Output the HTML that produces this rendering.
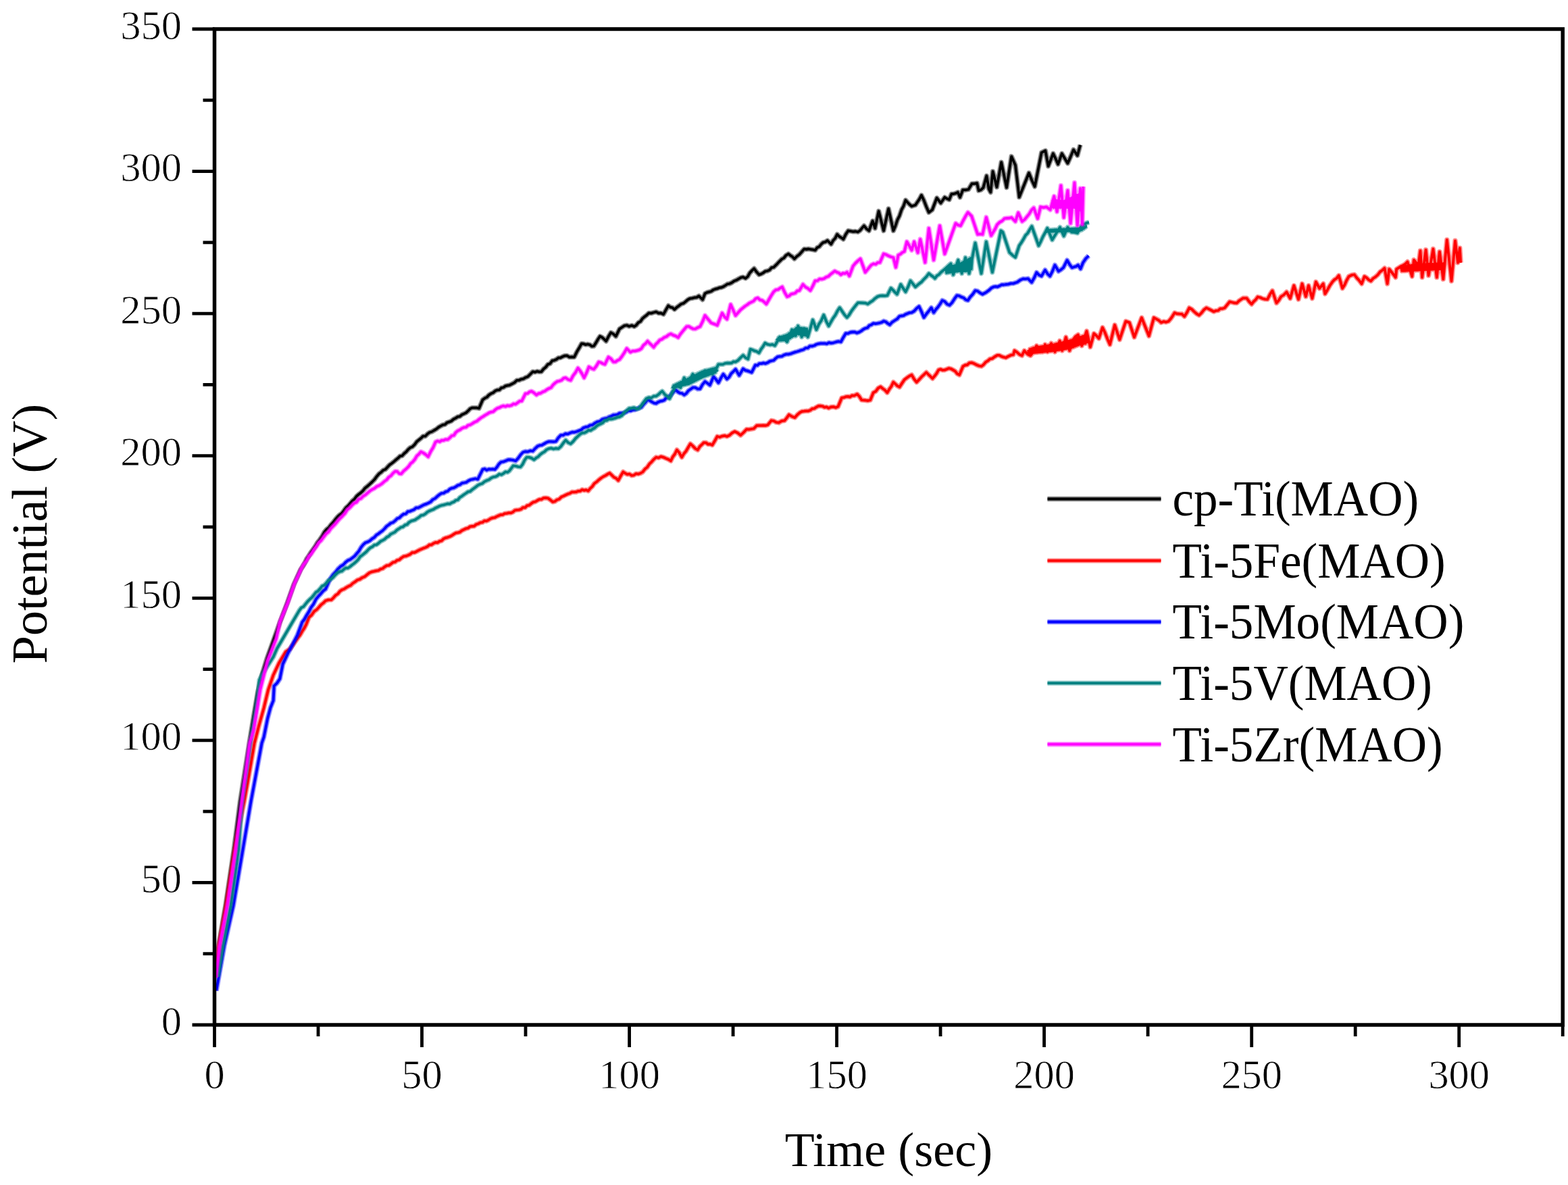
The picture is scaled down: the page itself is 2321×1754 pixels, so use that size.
<!DOCTYPE html><html><head><meta charset="utf-8"><title>Potential vs Time</title>
<style>html,body{margin:0;padding:0;background:#fff;}svg{display:block;}text{font-family:"Liberation Serif","Times New Roman",serif;fill:#000;}</style></head><body>
<svg width="2321" height="1754" viewBox="0 0 2321 1754">
<rect width="2321" height="1754" fill="#fff"/>
<g fill="none" stroke-linejoin="round" stroke-linecap="butt">
<path stroke="#000000" stroke-width="7.4" stroke-opacity="0.45" d="M319.5 1440.0L324.5 1395.0 334.0 1340.0 346.2 1258.0 355.5 1186.0 369.0 1100.0 375.5 1060.0 381.5 1025.0 388.0 998.0 395.0 975.0 404.0 950.0 414.0 922.0 425.0 893.0 435.0 865.0 445.0 843.0 448.0 838.5 451.0 833.5 454.0 827.2 457.0 823.0 460.2 817.6 463.5 813.1 466.8 808.4 470.0 803.0 473.4 798.7 476.9 793.6 480.3 787.4 483.6 783.4 486.8 780.9 490.1 776.5 493.3 773.1 496.4 769.0 499.6 765.2 502.7 762.2 505.9 759.9 509.0 755.9 512.2 751.5 515.3 748.8 518.5 745.1 521.6 741.4 524.8 738.7 527.9 734.5 531.0 731.7 534.1 729.4 537.3 726.4 540.4 722.4 543.5 720.0 547.1 716.8 550.7 713.5 554.3 709.8 557.9 704.9 561.1 701.3 564.2 699.0 567.4 695.9 570.5 694.7 573.7 691.2 576.9 687.9 580.0 685.7 583.2 683.2 586.2 680.5 589.2 678.1 592.2 675.1 595.3 674.6 598.3 671.2 601.3 668.7 604.4 665.1 607.5 662.4 610.6 661.2 613.7 658.1 616.8 653.8 619.9 651.3 623.0 648.8 626.2 645.7 629.5 645.7 632.8 642.3 636.0 640.0 639.2 639.0 642.5 637.0 645.8 635.1 649.0 632.5 652.2 630.6 655.5 628.9 658.7 628.3 661.8 625.5 665.0 624.4 668.1 623.2 671.3 620.5 674.5 618.9 677.6 616.9 680.8 616.3 683.8 613.7 686.8 612.4 689.8 611.0 692.9 608.2 695.9 605.0 698.9 603.6 702.3 603.6 705.6 603.7 709.0 604.4 714.5 591.8 717.6 589.4 720.7 587.9 723.8 584.6 726.9 582.6 730.0 581.3 733.1 578.6 736.2 577.3 739.2 577.1 742.2 574.2 745.2 573.5 748.2 571.4 751.2 570.7 754.2 570.1 757.8 568.3 761.5 566.3 765.1 562.9 768.4 562.8 771.6 561.3 774.9 560.6 778.1 558.7 781.4 557.4 785.0 553.9 788.6 550.2 791.8 550.9 795.0 549.7 798.1 550.3 801.3 550.2 804.5 546.2 807.8 543.5 811.0 539.4 814.3 538.2 817.5 533.9 820.5 533.3 823.5 532.0 826.5 529.7 829.6 529.5 832.6 528.0 835.6 526.7 839.2 526.4 842.9 528.6 846.5 528.3 850.1 528.5 853.7 521.1 857.3 515.1 860.9 508.6 863.9 509.0 866.9 510.1 870.0 509.5 873.0 510.3 876.0 512.5 879.0 512.2 882.0 507.6 885.1 502.3 888.1 497.8 891.1 499.3 894.1 501.9 897.1 505.0 900.7 498.1 904.3 492.3 908.0 494.3 911.6 497.8 917.0 486.9 920.6 484.5 924.2 482.2 927.8 481.5 931.4 483.0 935.1 481.7 938.7 483.3 941.8 481.3 944.9 477.5 948.0 475.8 951.1 471.4 954.2 468.7 957.3 466.4 960.4 463.4 964.0 463.6 967.6 462.5 971.2 461.6 974.8 463.5 978.5 463.5 982.1 465.2 985.7 458.7 989.3 452.5 992.3 454.7 995.4 455.3 998.4 458.0 1001.7 455.0 1005.0 452.6 1008.3 450.0 1011.7 448.9 1015.0 446.3 1018.3 443.5 1021.5 441.8 1024.8 441.3 1028.0 440.5 1031.3 440.2 1034.5 438.1 1040.0 443.5 1043.6 434.5 1046.6 432.9 1049.6 432.1 1052.7 431.2 1055.7 429.1 1058.7 427.9 1061.7 427.2 1064.7 425.9 1067.7 425.5 1070.7 424.4 1073.7 422.5 1076.7 420.5 1079.7 420.0 1083.1 418.5 1086.5 416.1 1089.8 414.8 1093.2 412.8 1096.6 410.9 1100.0 410.2 1103.6 412.0 1106.8 409.4 1109.9 403.9 1113.1 400.4 1116.3 397.5 1119.9 402.6 1123.5 406.6 1126.6 405.6 1129.7 403.9 1132.8 401.6 1135.9 401.0 1139.0 399.7 1142.1 396.2 1145.2 395.7 1150.6 390.3 1153.9 386.8 1157.1 383.6 1160.4 381.8 1163.6 377.8 1166.9 375.8 1169.9 378.1 1172.9 380.0 1175.9 383.1 1179.5 379.5 1183.2 376.8 1186.8 372.7 1190.4 368.6 1193.7 369.0 1196.9 368.5 1200.2 369.1 1203.4 369.7 1206.7 370.4 1209.7 366.4 1212.7 365.1 1215.7 361.4 1218.7 358.8 1221.8 358.1 1224.8 356.0 1230.2 361.4 1233.2 356.0 1236.2 352.8 1239.2 346.9 1242.2 350.0 1245.3 351.8 1248.3 354.1 1251.9 346.9 1255.5 341.5 1259.1 342.1 1262.8 342.8 1266.4 342.5 1270.0 343.3 1273.0 341.2 1276.0 337.6 1279.0 334.2 1282.7 338.8 1286.3 341.5 1291.7 327.0 1295.3 337.9 1300.7 312.5 1308.0 341.5 1315.2 308.9 1322.4 341.5 1325.4 334.5 1328.4 325.5 1331.5 319.3 1334.5 310.5 1337.5 304.9 1340.5 296.3 1343.5 299.6 1346.5 302.7 1349.5 305.3 1355.0 303.5 1358.0 299.0 1361.0 294.7 1364.0 289.0 1367.6 296.6 1371.3 306.3 1374.9 314.4 1380.0 310.5 1386.7 293.0 1392.6 300.5 1398.4 292.1 1401.8 294.1 1405.1 295.5 1408.5 287.1 1411.6 287.0 1414.6 286.2 1417.7 284.6 1421.0 292.1 1425.2 281.2 1429.4 281.2 1433.6 280.4 1438.6 272.0 1442.4 271.8 1446.2 271.2 1448.7 282.1 1452.1 280.9 1455.4 277.9 1460.4 260.3 1463.7 279.6 1466.3 284.6 1469.6 253.6 1475.5 277.0 1482.2 240.2 1490.0 277.6 1497.2 231.6 1503.0 244.6 1508.7 291.9 1523.0 256.0 1527.3 266.7 1531.7 276.1 1541.7 225.9 1547.4 223.0 1551.7 246.0 1558.9 227.3 1562.5 234.8 1566.1 243.1 1571.8 227.3 1576.1 234.4 1580.4 241.7 1584.7 232.1 1589.0 221.6 1594.8 230.2 1599.1 214.4"/>
<path stroke="#000000" stroke-width="3.8" d="M319.5 1440.0L324.5 1395.0 334.0 1340.0 346.2 1258.0 355.5 1186.0 369.0 1100.0 375.5 1060.0 381.5 1025.0 388.0 998.0 395.0 975.0 404.0 950.0 414.0 922.0 425.0 893.0 435.0 865.0 445.0 843.0 448.0 838.5 451.0 833.5 454.0 827.2 457.0 823.0 460.2 817.6 463.5 813.1 466.8 808.4 470.0 803.0 473.4 798.7 476.9 793.6 480.3 787.4 483.6 783.4 486.8 780.9 490.1 776.5 493.3 773.1 496.4 769.0 499.6 765.2 502.7 762.2 505.9 759.9 509.0 755.9 512.2 751.5 515.3 748.8 518.5 745.1 521.6 741.4 524.8 738.7 527.9 734.5 531.0 731.7 534.1 729.4 537.3 726.4 540.4 722.4 543.5 720.0 547.1 716.8 550.7 713.5 554.3 709.8 557.9 704.9 561.1 701.3 564.2 699.0 567.4 695.9 570.5 694.7 573.7 691.2 576.9 687.9 580.0 685.7 583.2 683.2 586.2 680.5 589.2 678.1 592.2 675.1 595.3 674.6 598.3 671.2 601.3 668.7 604.4 665.1 607.5 662.4 610.6 661.2 613.7 658.1 616.8 653.8 619.9 651.3 623.0 648.8 626.2 645.7 629.5 645.7 632.8 642.3 636.0 640.0 639.2 639.0 642.5 637.0 645.8 635.1 649.0 632.5 652.2 630.6 655.5 628.9 658.7 628.3 661.8 625.5 665.0 624.4 668.1 623.2 671.3 620.5 674.5 618.9 677.6 616.9 680.8 616.3 683.8 613.7 686.8 612.4 689.8 611.0 692.9 608.2 695.9 605.0 698.9 603.6 702.3 603.6 705.6 603.7 709.0 604.4 714.5 591.8 717.6 589.4 720.7 587.9 723.8 584.6 726.9 582.6 730.0 581.3 733.1 578.6 736.2 577.3 739.2 577.1 742.2 574.2 745.2 573.5 748.2 571.4 751.2 570.7 754.2 570.1 757.8 568.3 761.5 566.3 765.1 562.9 768.4 562.8 771.6 561.3 774.9 560.6 778.1 558.7 781.4 557.4 785.0 553.9 788.6 550.2 791.8 550.9 795.0 549.7 798.1 550.3 801.3 550.2 804.5 546.2 807.8 543.5 811.0 539.4 814.3 538.2 817.5 533.9 820.5 533.3 823.5 532.0 826.5 529.7 829.6 529.5 832.6 528.0 835.6 526.7 839.2 526.4 842.9 528.6 846.5 528.3 850.1 528.5 853.7 521.1 857.3 515.1 860.9 508.6 863.9 509.0 866.9 510.1 870.0 509.5 873.0 510.3 876.0 512.5 879.0 512.2 882.0 507.6 885.1 502.3 888.1 497.8 891.1 499.3 894.1 501.9 897.1 505.0 900.7 498.1 904.3 492.3 908.0 494.3 911.6 497.8 917.0 486.9 920.6 484.5 924.2 482.2 927.8 481.5 931.4 483.0 935.1 481.7 938.7 483.3 941.8 481.3 944.9 477.5 948.0 475.8 951.1 471.4 954.2 468.7 957.3 466.4 960.4 463.4 964.0 463.6 967.6 462.5 971.2 461.6 974.8 463.5 978.5 463.5 982.1 465.2 985.7 458.7 989.3 452.5 992.3 454.7 995.4 455.3 998.4 458.0 1001.7 455.0 1005.0 452.6 1008.3 450.0 1011.7 448.9 1015.0 446.3 1018.3 443.5 1021.5 441.8 1024.8 441.3 1028.0 440.5 1031.3 440.2 1034.5 438.1 1040.0 443.5 1043.6 434.5 1046.6 432.9 1049.6 432.1 1052.7 431.2 1055.7 429.1 1058.7 427.9 1061.7 427.2 1064.7 425.9 1067.7 425.5 1070.7 424.4 1073.7 422.5 1076.7 420.5 1079.7 420.0 1083.1 418.5 1086.5 416.1 1089.8 414.8 1093.2 412.8 1096.6 410.9 1100.0 410.2 1103.6 412.0 1106.8 409.4 1109.9 403.9 1113.1 400.4 1116.3 397.5 1119.9 402.6 1123.5 406.6 1126.6 405.6 1129.7 403.9 1132.8 401.6 1135.9 401.0 1139.0 399.7 1142.1 396.2 1145.2 395.7 1150.6 390.3 1153.9 386.8 1157.1 383.6 1160.4 381.8 1163.6 377.8 1166.9 375.8 1169.9 378.1 1172.9 380.0 1175.9 383.1 1179.5 379.5 1183.2 376.8 1186.8 372.7 1190.4 368.6 1193.7 369.0 1196.9 368.5 1200.2 369.1 1203.4 369.7 1206.7 370.4 1209.7 366.4 1212.7 365.1 1215.7 361.4 1218.7 358.8 1221.8 358.1 1224.8 356.0 1230.2 361.4 1233.2 356.0 1236.2 352.8 1239.2 346.9 1242.2 350.0 1245.3 351.8 1248.3 354.1 1251.9 346.9 1255.5 341.5 1259.1 342.1 1262.8 342.8 1266.4 342.5 1270.0 343.3 1273.0 341.2 1276.0 337.6 1279.0 334.2 1282.7 338.8 1286.3 341.5 1291.7 327.0 1295.3 337.9 1300.7 312.5 1308.0 341.5 1315.2 308.9 1322.4 341.5 1325.4 334.5 1328.4 325.5 1331.5 319.3 1334.5 310.5 1337.5 304.9 1340.5 296.3 1343.5 299.6 1346.5 302.7 1349.5 305.3 1355.0 303.5 1358.0 299.0 1361.0 294.7 1364.0 289.0 1367.6 296.6 1371.3 306.3 1374.9 314.4 1380.0 310.5 1386.7 293.0 1392.6 300.5 1398.4 292.1 1401.8 294.1 1405.1 295.5 1408.5 287.1 1411.6 287.0 1414.6 286.2 1417.7 284.6 1421.0 292.1 1425.2 281.2 1429.4 281.2 1433.6 280.4 1438.6 272.0 1442.4 271.8 1446.2 271.2 1448.7 282.1 1452.1 280.9 1455.4 277.9 1460.4 260.3 1463.7 279.6 1466.3 284.6 1469.6 253.6 1475.5 277.0 1482.2 240.2 1490.0 277.6 1497.2 231.6 1503.0 244.6 1508.7 291.9 1523.0 256.0 1527.3 266.7 1531.7 276.1 1541.7 225.9 1547.4 223.0 1551.7 246.0 1558.9 227.3 1562.5 234.8 1566.1 243.1 1571.8 227.3 1576.1 234.4 1580.4 241.7 1584.7 232.1 1589.0 221.6 1594.8 230.2 1599.1 214.4"/>
<path stroke="#ff0000" stroke-width="7.4" stroke-opacity="0.45" d="M319.5 1440.0L324.0 1400.0 335.0 1340.0 341.0 1300.0 347.5 1258.0 354.5 1220.0 361.5 1186.0 368.0 1150.0 376.6 1100.0 383.1 1074.6 390.6 1047.7 397.1 1020.8 404.6 999.2 413.2 980.9 422.9 964.8 429.2 960.5 441.1 943.8 444.1 940.0 447.1 934.8 450.1 930.3 453.1 924.6 457.4 913.7 461.2 910.5 465.1 904.9 468.9 902.2 472.1 898.8 475.4 895.0 478.6 892.6 481.8 889.3 486.1 887.9 490.4 887.9 493.6 884.8 496.9 881.1 500.1 879.0 503.3 875.0 506.4 872.9 509.5 871.7 512.6 869.6 515.8 867.8 518.9 866.5 522.0 863.5 525.6 861.1 529.1 858.5 532.7 857.4 536.3 854.9 539.9 853.5 543.5 850.5 547.0 847.8 550.6 846.3 553.8 845.6 557.0 844.8 560.1 844.3 563.3 842.3 566.4 841.5 569.4 839.1 572.5 837.1 575.6 836.8 578.6 834.8 581.7 832.4 584.8 831.8 587.9 829.3 590.9 828.7 594.0 826.0 597.3 823.7 600.5 823.2 603.8 821.9 607.0 820.5 610.3 817.8 613.6 817.8 616.8 816.2 620.1 814.4 623.3 812.9 626.6 811.6 629.6 810.4 632.6 809.1 635.6 806.5 638.6 806.3 641.6 804.4 644.7 802.9 647.7 803.2 650.7 801.2 653.7 800.4 656.7 797.4 659.7 796.1 662.7 795.3 665.7 794.2 668.7 792.7 671.8 790.6 674.8 788.8 677.8 788.3 680.8 787.6 683.8 785.2 686.8 783.8 689.9 782.3 692.9 781.6 695.9 779.4 698.9 779.0 701.9 778.8 704.9 776.2 708.0 775.2 711.0 773.6 714.0 773.2 717.0 770.9 720.0 771.2 723.0 769.8 726.0 767.7 729.1 766.6 732.1 766.2 735.1 764.6 738.1 763.2 741.1 762.0 744.1 761.9 747.1 760.1 750.1 759.8 753.2 759.2 756.2 759.2 759.2 757.9 762.2 755.4 765.2 754.9 768.2 754.6 771.2 753.7 774.2 751.1 777.2 751.3 780.3 748.3 783.3 747.8 786.3 745.4 789.3 743.4 792.4 742.6 795.4 740.8 798.4 739.2 801.5 739.2 804.7 737.2 807.9 737.0 811.0 737.4 814.6 739.9 818.3 742.9 821.5 742.1 824.6 739.7 827.8 738.7 831.0 735.6 834.1 734.3 837.3 732.7 840.4 731.3 843.6 730.2 846.6 728.3 849.6 728.4 852.7 728.2 855.7 727.0 858.7 726.8 861.7 724.8 864.7 725.9 867.7 725.2 870.7 726.6 873.7 722.9 876.7 720.1 879.7 715.7 883.1 713.3 886.5 710.2 889.9 707.5 893.0 705.5 896.2 703.9 899.4 701.8 902.5 700.3 905.7 703.4 908.9 706.5 912.0 707.9 915.2 711.1 918.8 704.5 922.4 698.5 925.6 700.6 928.8 702.2 931.9 701.7 935.1 703.9 938.4 703.3 941.6 701.1 944.9 701.6 948.1 700.5 951.4 698.5 954.7 694.3 958.0 691.6 961.3 686.7 964.6 683.6 967.9 679.8 971.2 676.8 974.8 677.6 978.5 675.8 982.1 676.8 985.7 678.4 989.3 679.9 992.9 682.2 995.9 676.2 999.0 672.0 1002.0 665.9 1005.6 670.3 1009.2 676.8 1012.4 671.4 1015.5 667.8 1018.7 662.3 1021.9 656.9 1025.5 660.1 1029.1 663.9 1032.7 665.9 1035.7 661.2 1038.8 658.2 1041.8 655.1 1045.0 655.3 1048.1 657.6 1051.2 657.4 1054.4 658.7 1058.1 652.6 1061.7 646.0 1065.3 647.0 1068.9 645.6 1072.5 644.9 1076.1 646.0 1079.9 644.2 1083.8 640.7 1087.6 638.7 1091.9 640.8 1096.3 644.2 1100.7 640.1 1105.0 635.5 1108.6 635.7 1112.2 635.0 1115.8 634.4 1120.1 630.0 1123.4 629.8 1126.6 629.8 1129.9 629.6 1133.1 629.8 1136.4 629.0 1141.8 622.5 1145.4 623.1 1149.1 625.2 1152.7 625.7 1157.1 623.1 1161.4 622.5 1164.7 618.4 1167.9 613.8 1172.2 616.5 1176.6 618.1 1180.4 613.7 1184.2 610.5 1187.2 609.0 1190.2 608.7 1193.3 608.3 1196.3 608.4 1199.3 607.3 1202.3 605.0 1205.4 604.6 1208.4 602.7 1211.5 601.0 1214.5 600.8 1217.5 601.3 1220.5 602.9 1223.5 602.4 1226.5 604.0 1230.0 602.5 1233.5 602.1 1237.1 603.3 1240.6 601.8 1246.0 588.8 1249.1 588.4 1252.1 587.2 1255.2 587.0 1258.3 587.5 1261.3 585.4 1264.4 585.6 1268.8 583.4 1272.0 586.7 1275.3 592.1 1278.5 592.3 1281.8 592.7 1285.0 593.0 1288.3 592.1 1292.7 581.2 1296.3 579.3 1299.9 574.5 1303.5 572.5 1306.8 575.2 1310.0 577.5 1313.3 581.2 1316.3 576.1 1319.4 571.9 1322.4 565.7 1325.4 568.4 1328.5 571.3 1331.5 572.9 1335.1 567.4 1338.7 562.1 1342.3 559.3 1345.9 556.7 1349.5 554.9 1353.2 561.2 1356.8 565.7 1360.4 561.9 1364.0 557.9 1367.6 554.6 1371.2 551.2 1374.2 554.3 1377.3 557.2 1380.3 560.3 1383.3 556.8 1386.3 552.8 1389.3 547.6 1392.3 546.6 1395.3 547.9 1398.3 547.7 1401.4 546.4 1404.4 545.2 1407.4 545.8 1410.6 547.5 1413.8 549.4 1416.9 553.2 1420.1 554.9 1425.5 542.2 1428.7 540.5 1431.8 540.0 1435.0 537.1 1438.2 536.8 1441.8 538.1 1445.4 540.0 1449.0 541.5 1452.6 542.2 1455.8 539.9 1458.9 536.2 1462.1 534.2 1465.3 531.4 1468.9 530.6 1472.5 528.0 1476.1 525.9 1479.3 525.9 1482.4 527.6 1485.6 528.7 1488.8 529.5 1492.5 527.5 1496.3 525.7 1500.0 525.0 1501.8 519.0 1505.4 521.4 1509.1 524.7 1512.7 526.3 1516.3 519.0 1519.3 522.5 1522.3 524.9 1525.3 526.3 1528.3 522.6 1531.4 517.0 1534.4 511.8 1537.4 515.4 1540.4 518.1 1543.4 520.8 1547.0 510.0 1550.6 520.8 1556.1 508.2 1561.5 520.8 1565.1 513.5 1568.7 504.6 1572.3 519.0 1577.8 499.1 1583.2 519.0 1588.6 502.7 1592.2 498.0 1595.8 495.5 1601.3 511.8 1608.5 490.1 1613.9 513.6 1619.3 493.7 1622.9 496.8 1626.6 500.9 1632.0 484.7 1635.6 492.4 1639.3 501.7 1642.9 510.0 1650.1 481.0 1657.3 502.7 1666.4 475.6 1671.8 477.4 1679.0 499.1 1689.9 470.2 1700.7 497.3 1708.0 470.2 1711.6 472.1 1715.2 474.1 1718.8 477.4 1722.4 475.9 1726.1 476.8 1729.7 475.6 1732.7 472.1 1735.7 467.8 1738.7 463.0 1742.3 464.4 1745.9 464.7 1749.5 464.8 1753.2 468.4 1756.8 462.8 1760.4 455.7 1764.0 457.7 1767.7 461.4 1771.3 464.5 1774.9 466.6 1778.5 463.1 1782.1 458.5 1785.7 455.7 1789.3 457.4 1793.0 459.3 1796.6 461.2 1799.8 459.9 1803.1 459.6 1806.3 456.9 1809.6 456.8 1812.8 455.7 1816.4 451.2 1820.1 446.7 1823.7 447.5 1827.3 448.4 1830.9 448.5 1833.9 445.4 1837.0 443.3 1840.0 441.3 1845.4 441.3 1849.0 446.4 1852.6 450.3 1855.6 446.5 1858.7 443.6 1861.7 439.5 1865.3 440.3 1868.9 442.0 1872.5 442.8 1876.1 443.1 1879.8 435.8 1883.4 430.4 1889.5 448.5 1892.9 444.5 1896.3 439.0 1900.3 436.5 1904.4 432.2 1909.8 441.7 1915.3 422.7 1922.0 443.1 1927.5 420.0 1932.9 439.0 1937.0 422.7 1942.4 441.7 1947.8 417.3 1953.2 426.8 1958.7 420.0 1961.4 434.9 1965.0 428.9 1968.6 422.5 1972.2 417.3 1975.4 413.9 1978.5 412.0 1981.7 407.8 1987.1 426.8 1990.3 421.8 1993.4 414.8 1996.6 409.2 2000.7 407.2 2004.8 406.5 2008.4 411.4 2012.0 415.3 2015.6 420.0 2019.7 409.2 2022.9 411.2 2026.0 414.2 2029.2 416.0 2032.6 412.0 2036.0 409.8 2039.4 406.8 2042.8 402.4 2046.2 400.0 2049.5 397.0 2053.6 420.0 2056.3 398.3 2059.5 402.3 2062.6 406.2 2065.8 410.5 2067.2 398.3 2070.4 396.3 2073.5 394.3 2076.7 392.9 2080.1 390.8 2083.4 387.5 2090.2 409.2 2092.9 384.8 2096.3 388.9 2099.7 391.5 2102.4 371.2 2105.1 410.5 2110.6 369.8 2114.6 407.8 2121.4 368.5 2126.8 410.5 2130.9 372.6 2136.3 413.2 2141.8 354.9 2148.5 416.0 2154.0 356.3 2158.0 388.8 2160.8 367.1 2162.1 388.8 M1522.0 518.0L1523.3 523.7 1524.6 517.0 1525.9 523.0 1527.2 516.1 1528.5 522.4 1529.8 515.1 1531.1 521.9 1532.4 514.6 1533.7 521.6 1535.0 514.2 1536.3 521.4 1537.6 513.7 1538.9 521.1 1540.2 513.3 1541.5 520.9 1542.8 512.9 1544.1 520.6 1545.4 512.4 1546.7 520.3 1548.0 512.0 1549.3 520.1 1550.6 511.6 1551.9 519.8 1553.2 511.1 1554.5 519.6 1555.8 510.7 1557.1 519.3 1558.4 510.3 1559.7 519.0 1561.0 509.8 1562.3 518.6 1563.6 509.1 1564.9 518.2 1566.2 508.5 1567.5 517.8 1568.8 507.9 1570.1 517.4 1571.4 507.3 1572.7 517.0 1574.0 506.6 1575.3 516.6 1576.6 506.0 1577.9 516.1 1579.2 505.4 1580.5 515.7 1581.8 504.8 1583.1 515.3 1584.4 504.1 1585.7 514.7 1587.0 503.3 1588.3 513.7 1589.6 502.5 1590.9 512.6 1592.2 501.6 1593.5 511.6 1594.8 500.7 1596.1 510.6 1597.4 499.9 1598.7 509.5 1600.0 499.0 1601.3 508.9 1602.6 498.0 1603.9 508.6 1605.2 496.9 1606.5 508.4 1607.8 495.9 1609.1 508.1 M2074.0 395.0L2075.3 400.9 2076.6 394.6 2077.9 400.8 2079.2 394.2 2080.5 400.7 2081.8 393.8 2083.1 400.5 2084.4 393.4 2085.7 400.4 2087.0 393.0 2088.3 400.3 2089.6 392.7 2090.9 400.2 2092.2 392.3 2093.5 400.0 2094.8 392.0 2096.1 399.9 2097.4 391.8 2098.7 399.8 2100.0 391.7 2101.3 399.7 2102.6 391.6 2103.9 399.5 2105.2 391.5 2106.5 399.4 2107.8 391.4 2109.1 399.3 2110.4 391.3 2111.7 399.2 2113.0 391.1 2114.3 399.1 2115.6 391.0 2116.9 399.0 2118.2 390.9 2119.5 398.8 2120.8 390.8 2122.1 398.7 2123.4 390.7 2124.7 398.6 2126.0 390.5 2127.3 398.5 2128.6 390.4 2129.9 398.4 2131.2 390.3 2132.5 398.2 2133.8 390.2 2135.1 398.1 2136.4 390.1 2137.7 398.0"/>
<path stroke="#ff0000" stroke-width="3.8" d="M319.5 1440.0L324.0 1400.0 335.0 1340.0 341.0 1300.0 347.5 1258.0 354.5 1220.0 361.5 1186.0 368.0 1150.0 376.6 1100.0 383.1 1074.6 390.6 1047.7 397.1 1020.8 404.6 999.2 413.2 980.9 422.9 964.8 429.2 960.5 441.1 943.8 444.1 940.0 447.1 934.8 450.1 930.3 453.1 924.6 457.4 913.7 461.2 910.5 465.1 904.9 468.9 902.2 472.1 898.8 475.4 895.0 478.6 892.6 481.8 889.3 486.1 887.9 490.4 887.9 493.6 884.8 496.9 881.1 500.1 879.0 503.3 875.0 506.4 872.9 509.5 871.7 512.6 869.6 515.8 867.8 518.9 866.5 522.0 863.5 525.6 861.1 529.1 858.5 532.7 857.4 536.3 854.9 539.9 853.5 543.5 850.5 547.0 847.8 550.6 846.3 553.8 845.6 557.0 844.8 560.1 844.3 563.3 842.3 566.4 841.5 569.4 839.1 572.5 837.1 575.6 836.8 578.6 834.8 581.7 832.4 584.8 831.8 587.9 829.3 590.9 828.7 594.0 826.0 597.3 823.7 600.5 823.2 603.8 821.9 607.0 820.5 610.3 817.8 613.6 817.8 616.8 816.2 620.1 814.4 623.3 812.9 626.6 811.6 629.6 810.4 632.6 809.1 635.6 806.5 638.6 806.3 641.6 804.4 644.7 802.9 647.7 803.2 650.7 801.2 653.7 800.4 656.7 797.4 659.7 796.1 662.7 795.3 665.7 794.2 668.7 792.7 671.8 790.6 674.8 788.8 677.8 788.3 680.8 787.6 683.8 785.2 686.8 783.8 689.9 782.3 692.9 781.6 695.9 779.4 698.9 779.0 701.9 778.8 704.9 776.2 708.0 775.2 711.0 773.6 714.0 773.2 717.0 770.9 720.0 771.2 723.0 769.8 726.0 767.7 729.1 766.6 732.1 766.2 735.1 764.6 738.1 763.2 741.1 762.0 744.1 761.9 747.1 760.1 750.1 759.8 753.2 759.2 756.2 759.2 759.2 757.9 762.2 755.4 765.2 754.9 768.2 754.6 771.2 753.7 774.2 751.1 777.2 751.3 780.3 748.3 783.3 747.8 786.3 745.4 789.3 743.4 792.4 742.6 795.4 740.8 798.4 739.2 801.5 739.2 804.7 737.2 807.9 737.0 811.0 737.4 814.6 739.9 818.3 742.9 821.5 742.1 824.6 739.7 827.8 738.7 831.0 735.6 834.1 734.3 837.3 732.7 840.4 731.3 843.6 730.2 846.6 728.3 849.6 728.4 852.7 728.2 855.7 727.0 858.7 726.8 861.7 724.8 864.7 725.9 867.7 725.2 870.7 726.6 873.7 722.9 876.7 720.1 879.7 715.7 883.1 713.3 886.5 710.2 889.9 707.5 893.0 705.5 896.2 703.9 899.4 701.8 902.5 700.3 905.7 703.4 908.9 706.5 912.0 707.9 915.2 711.1 918.8 704.5 922.4 698.5 925.6 700.6 928.8 702.2 931.9 701.7 935.1 703.9 938.4 703.3 941.6 701.1 944.9 701.6 948.1 700.5 951.4 698.5 954.7 694.3 958.0 691.6 961.3 686.7 964.6 683.6 967.9 679.8 971.2 676.8 974.8 677.6 978.5 675.8 982.1 676.8 985.7 678.4 989.3 679.9 992.9 682.2 995.9 676.2 999.0 672.0 1002.0 665.9 1005.6 670.3 1009.2 676.8 1012.4 671.4 1015.5 667.8 1018.7 662.3 1021.9 656.9 1025.5 660.1 1029.1 663.9 1032.7 665.9 1035.7 661.2 1038.8 658.2 1041.8 655.1 1045.0 655.3 1048.1 657.6 1051.2 657.4 1054.4 658.7 1058.1 652.6 1061.7 646.0 1065.3 647.0 1068.9 645.6 1072.5 644.9 1076.1 646.0 1079.9 644.2 1083.8 640.7 1087.6 638.7 1091.9 640.8 1096.3 644.2 1100.7 640.1 1105.0 635.5 1108.6 635.7 1112.2 635.0 1115.8 634.4 1120.1 630.0 1123.4 629.8 1126.6 629.8 1129.9 629.6 1133.1 629.8 1136.4 629.0 1141.8 622.5 1145.4 623.1 1149.1 625.2 1152.7 625.7 1157.1 623.1 1161.4 622.5 1164.7 618.4 1167.9 613.8 1172.2 616.5 1176.6 618.1 1180.4 613.7 1184.2 610.5 1187.2 609.0 1190.2 608.7 1193.3 608.3 1196.3 608.4 1199.3 607.3 1202.3 605.0 1205.4 604.6 1208.4 602.7 1211.5 601.0 1214.5 600.8 1217.5 601.3 1220.5 602.9 1223.5 602.4 1226.5 604.0 1230.0 602.5 1233.5 602.1 1237.1 603.3 1240.6 601.8 1246.0 588.8 1249.1 588.4 1252.1 587.2 1255.2 587.0 1258.3 587.5 1261.3 585.4 1264.4 585.6 1268.8 583.4 1272.0 586.7 1275.3 592.1 1278.5 592.3 1281.8 592.7 1285.0 593.0 1288.3 592.1 1292.7 581.2 1296.3 579.3 1299.9 574.5 1303.5 572.5 1306.8 575.2 1310.0 577.5 1313.3 581.2 1316.3 576.1 1319.4 571.9 1322.4 565.7 1325.4 568.4 1328.5 571.3 1331.5 572.9 1335.1 567.4 1338.7 562.1 1342.3 559.3 1345.9 556.7 1349.5 554.9 1353.2 561.2 1356.8 565.7 1360.4 561.9 1364.0 557.9 1367.6 554.6 1371.2 551.2 1374.2 554.3 1377.3 557.2 1380.3 560.3 1383.3 556.8 1386.3 552.8 1389.3 547.6 1392.3 546.6 1395.3 547.9 1398.3 547.7 1401.4 546.4 1404.4 545.2 1407.4 545.8 1410.6 547.5 1413.8 549.4 1416.9 553.2 1420.1 554.9 1425.5 542.2 1428.7 540.5 1431.8 540.0 1435.0 537.1 1438.2 536.8 1441.8 538.1 1445.4 540.0 1449.0 541.5 1452.6 542.2 1455.8 539.9 1458.9 536.2 1462.1 534.2 1465.3 531.4 1468.9 530.6 1472.5 528.0 1476.1 525.9 1479.3 525.9 1482.4 527.6 1485.6 528.7 1488.8 529.5 1492.5 527.5 1496.3 525.7 1500.0 525.0 1501.8 519.0 1505.4 521.4 1509.1 524.7 1512.7 526.3 1516.3 519.0 1519.3 522.5 1522.3 524.9 1525.3 526.3 1528.3 522.6 1531.4 517.0 1534.4 511.8 1537.4 515.4 1540.4 518.1 1543.4 520.8 1547.0 510.0 1550.6 520.8 1556.1 508.2 1561.5 520.8 1565.1 513.5 1568.7 504.6 1572.3 519.0 1577.8 499.1 1583.2 519.0 1588.6 502.7 1592.2 498.0 1595.8 495.5 1601.3 511.8 1608.5 490.1 1613.9 513.6 1619.3 493.7 1622.9 496.8 1626.6 500.9 1632.0 484.7 1635.6 492.4 1639.3 501.7 1642.9 510.0 1650.1 481.0 1657.3 502.7 1666.4 475.6 1671.8 477.4 1679.0 499.1 1689.9 470.2 1700.7 497.3 1708.0 470.2 1711.6 472.1 1715.2 474.1 1718.8 477.4 1722.4 475.9 1726.1 476.8 1729.7 475.6 1732.7 472.1 1735.7 467.8 1738.7 463.0 1742.3 464.4 1745.9 464.7 1749.5 464.8 1753.2 468.4 1756.8 462.8 1760.4 455.7 1764.0 457.7 1767.7 461.4 1771.3 464.5 1774.9 466.6 1778.5 463.1 1782.1 458.5 1785.7 455.7 1789.3 457.4 1793.0 459.3 1796.6 461.2 1799.8 459.9 1803.1 459.6 1806.3 456.9 1809.6 456.8 1812.8 455.7 1816.4 451.2 1820.1 446.7 1823.7 447.5 1827.3 448.4 1830.9 448.5 1833.9 445.4 1837.0 443.3 1840.0 441.3 1845.4 441.3 1849.0 446.4 1852.6 450.3 1855.6 446.5 1858.7 443.6 1861.7 439.5 1865.3 440.3 1868.9 442.0 1872.5 442.8 1876.1 443.1 1879.8 435.8 1883.4 430.4 1889.5 448.5 1892.9 444.5 1896.3 439.0 1900.3 436.5 1904.4 432.2 1909.8 441.7 1915.3 422.7 1922.0 443.1 1927.5 420.0 1932.9 439.0 1937.0 422.7 1942.4 441.7 1947.8 417.3 1953.2 426.8 1958.7 420.0 1961.4 434.9 1965.0 428.9 1968.6 422.5 1972.2 417.3 1975.4 413.9 1978.5 412.0 1981.7 407.8 1987.1 426.8 1990.3 421.8 1993.4 414.8 1996.6 409.2 2000.7 407.2 2004.8 406.5 2008.4 411.4 2012.0 415.3 2015.6 420.0 2019.7 409.2 2022.9 411.2 2026.0 414.2 2029.2 416.0 2032.6 412.0 2036.0 409.8 2039.4 406.8 2042.8 402.4 2046.2 400.0 2049.5 397.0 2053.6 420.0 2056.3 398.3 2059.5 402.3 2062.6 406.2 2065.8 410.5 2067.2 398.3 2070.4 396.3 2073.5 394.3 2076.7 392.9 2080.1 390.8 2083.4 387.5 2090.2 409.2 2092.9 384.8 2096.3 388.9 2099.7 391.5 2102.4 371.2 2105.1 410.5 2110.6 369.8 2114.6 407.8 2121.4 368.5 2126.8 410.5 2130.9 372.6 2136.3 413.2 2141.8 354.9 2148.5 416.0 2154.0 356.3 2158.0 388.8 2160.8 367.1 2162.1 388.8 M1522.0 518.0L1523.3 523.7 1524.6 517.0 1525.9 523.0 1527.2 516.1 1528.5 522.4 1529.8 515.1 1531.1 521.9 1532.4 514.6 1533.7 521.6 1535.0 514.2 1536.3 521.4 1537.6 513.7 1538.9 521.1 1540.2 513.3 1541.5 520.9 1542.8 512.9 1544.1 520.6 1545.4 512.4 1546.7 520.3 1548.0 512.0 1549.3 520.1 1550.6 511.6 1551.9 519.8 1553.2 511.1 1554.5 519.6 1555.8 510.7 1557.1 519.3 1558.4 510.3 1559.7 519.0 1561.0 509.8 1562.3 518.6 1563.6 509.1 1564.9 518.2 1566.2 508.5 1567.5 517.8 1568.8 507.9 1570.1 517.4 1571.4 507.3 1572.7 517.0 1574.0 506.6 1575.3 516.6 1576.6 506.0 1577.9 516.1 1579.2 505.4 1580.5 515.7 1581.8 504.8 1583.1 515.3 1584.4 504.1 1585.7 514.7 1587.0 503.3 1588.3 513.7 1589.6 502.5 1590.9 512.6 1592.2 501.6 1593.5 511.6 1594.8 500.7 1596.1 510.6 1597.4 499.9 1598.7 509.5 1600.0 499.0 1601.3 508.9 1602.6 498.0 1603.9 508.6 1605.2 496.9 1606.5 508.4 1607.8 495.9 1609.1 508.1 M2074.0 395.0L2075.3 400.9 2076.6 394.6 2077.9 400.8 2079.2 394.2 2080.5 400.7 2081.8 393.8 2083.1 400.5 2084.4 393.4 2085.7 400.4 2087.0 393.0 2088.3 400.3 2089.6 392.7 2090.9 400.2 2092.2 392.3 2093.5 400.0 2094.8 392.0 2096.1 399.9 2097.4 391.8 2098.7 399.8 2100.0 391.7 2101.3 399.7 2102.6 391.6 2103.9 399.5 2105.2 391.5 2106.5 399.4 2107.8 391.4 2109.1 399.3 2110.4 391.3 2111.7 399.2 2113.0 391.1 2114.3 399.1 2115.6 391.0 2116.9 399.0 2118.2 390.9 2119.5 398.8 2120.8 390.8 2122.1 398.7 2123.4 390.7 2124.7 398.6 2126.0 390.5 2127.3 398.5 2128.6 390.4 2129.9 398.4 2131.2 390.3 2132.5 398.2 2133.8 390.2 2135.1 398.1 2136.4 390.1 2137.7 398.0"/>
<path stroke="#0000ff" stroke-width="7.4" stroke-opacity="0.45" d="M320.2 1466.3L332.0 1400.0 345.5 1340.0 359.4 1258.0 371.5 1186.0 387.5 1100.0 390.6 1090.8 396.0 1063.8 400.3 1047.7 404.6 1036.9 405.7 1015.4 410.0 1011.1 414.3 1004.6 418.6 983.1 426.2 966.9 433.7 952.9 440.2 940.0 447.3 920.9 450.6 916.5 453.8 910.7 457.1 905.6 460.3 899.3 464.1 894.2 467.9 886.7 471.7 882.1 475.1 878.6 478.4 874.7 481.8 872.1 485.4 864.3 489.0 856.3 492.8 850.9 496.6 846.9 500.4 842.0 504.2 838.3 508.1 836.0 511.9 831.9 515.1 829.5 518.3 828.2 521.6 825.8 524.8 823.3 528.0 819.5 531.2 815.8 534.5 810.1 537.7 806.1 541.0 803.2 544.3 802.1 547.6 800.3 550.9 797.4 554.2 795.3 557.2 791.9 560.2 790.1 563.2 787.7 566.3 785.5 569.3 782.5 572.3 779.0 575.5 776.8 578.6 774.2 581.8 773.2 585.0 770.6 588.1 767.5 591.3 766.4 594.4 763.2 597.6 760.9 600.7 760.6 603.7 757.2 606.8 756.8 609.8 755.6 612.9 754.3 616.0 751.6 619.0 751.6 622.1 750.1 625.2 748.4 628.2 746.9 631.3 745.9 634.3 744.5 637.4 742.9 640.7 739.4 643.9 737.9 647.2 734.8 650.4 732.2 653.7 730.2 656.7 729.9 659.7 727.9 662.7 727.0 665.7 724.0 668.8 722.6 671.8 722.0 674.8 720.4 677.8 718.3 680.8 717.5 684.0 715.1 687.2 714.5 690.4 713.8 693.6 711.5 696.8 710.0 700.0 709.3 703.6 708.5 707.2 709.3 710.9 702.0 714.5 694.9 717.5 694.0 720.5 695.9 723.5 694.5 726.5 694.7 729.5 694.3 732.5 694.9 735.5 691.5 738.6 686.8 741.6 684.0 745.2 683.4 748.8 682.0 752.4 680.4 756.0 680.5 759.7 681.2 763.3 682.2 766.9 678.4 770.5 673.3 774.1 669.5 777.7 668.3 781.4 668.6 785.0 667.2 788.6 667.7 792.2 663.8 795.8 660.5 799.0 659.2 802.1 658.8 805.3 657.0 808.5 655.1 812.1 653.7 815.8 653.6 819.4 653.8 823.0 653.3 826.6 647.8 830.2 644.2 833.6 644.2 836.9 642.0 840.3 642.4 843.6 640.9 847.0 639.7 850.3 639.8 853.7 638.8 857.0 637.4 860.2 636.3 863.5 633.4 866.7 632.2 870.0 631.6 873.6 629.5 877.2 628.8 880.9 626.1 884.5 624.3 888.1 623.5 891.7 620.6 895.3 619.5 898.9 618.9 901.9 617.0 904.9 616.0 908.0 614.3 911.0 614.1 914.0 613.6 917.0 611.7 920.3 611.4 923.5 611.3 926.8 610.0 930.0 608.1 933.3 608.1 936.5 606.9 939.8 606.6 943.0 605.1 946.3 603.6 949.5 602.6 952.5 598.8 955.6 595.4 958.6 591.8 961.8 592.9 964.9 594.9 968.1 596.6 971.2 597.2 974.2 595.2 977.2 593.9 980.2 593.4 983.3 592.2 986.3 588.8 989.3 588.2 992.9 585.0 996.6 580.3 1000.2 577.3 1003.4 580.0 1006.5 581.8 1009.6 582.2 1012.8 584.6 1016.0 582.2 1019.1 578.2 1022.3 576.0 1025.5 573.7 1029.1 573.6 1032.7 575.7 1036.3 575.5 1039.9 569.1 1043.6 564.7 1047.2 567.2 1050.8 570.1 1056.2 557.4 1059.8 561.5 1063.5 566.5 1067.1 559.6 1070.7 553.8 1076.1 561.0 1079.3 558.1 1082.4 552.8 1085.6 549.8 1088.8 546.6 1094.2 555.6 1100.0 545.8 1103.2 548.1 1106.3 548.9 1109.5 550.0 1112.7 551.2 1118.1 540.4 1121.1 540.8 1124.1 538.1 1127.2 538.1 1130.2 537.3 1133.2 538.1 1136.2 536.8 1139.2 534.9 1142.2 534.0 1145.2 533.3 1148.2 530.4 1151.2 528.1 1154.2 527.7 1157.4 527.4 1160.5 525.5 1163.7 524.4 1166.9 524.3 1170.1 523.7 1173.2 522.5 1176.4 521.4 1179.6 520.5 1182.8 519.5 1186.0 518.3 1189.2 517.5 1192.4 515.2 1195.7 515.1 1198.9 512.3 1202.1 512.3 1205.3 511.5 1208.5 509.7 1211.6 508.8 1214.7 508.3 1217.8 508.4 1220.9 508.3 1224.0 508.8 1227.1 507.1 1230.2 507.8 1233.8 507.3 1237.5 506.2 1241.1 505.4 1244.7 506.0 1248.3 499.4 1251.9 493.4 1255.2 493.6 1258.5 492.0 1261.8 491.5 1265.2 491.4 1268.5 492.8 1271.8 491.6 1274.8 489.9 1277.8 487.5 1280.8 486.0 1283.9 485.2 1286.9 481.8 1289.9 480.7 1292.9 478.7 1295.9 479.1 1299.0 478.6 1302.0 478.0 1305.0 477.2 1308.0 475.3 1311.0 476.2 1314.0 478.7 1317.0 480.7 1320.6 476.8 1324.2 474.5 1327.9 472.2 1331.5 468.1 1334.5 467.5 1337.5 467.1 1340.5 465.2 1343.5 464.0 1346.5 462.9 1349.5 462.6 1353.1 460.5 1356.8 456.4 1360.4 453.6 1364.0 461.2 1367.6 469.9 1371.2 464.8 1374.9 460.3 1378.5 455.4 1382.1 462.6 1385.3 458.0 1388.4 454.4 1391.6 450.0 1394.8 444.6 1398.4 446.3 1402.0 450.3 1405.6 451.8 1409.2 448.0 1412.9 442.2 1416.5 437.3 1419.7 437.9 1423.0 439.6 1426.2 440.7 1429.5 443.7 1432.7 444.6 1436.3 439.4 1440.0 435.4 1443.6 430.1 1447.2 430.9 1450.8 433.6 1454.4 435.5 1457.7 433.8 1460.9 431.8 1464.2 429.4 1467.4 426.3 1470.7 424.7 1473.7 424.2 1476.7 424.5 1479.8 423.1 1482.8 421.4 1485.8 421.5 1488.8 421.0 1492.5 420.7 1496.3 419.6 1500.0 419.6 1505.4 417.8 1510.8 414.2 1514.4 412.7 1518.1 412.9 1521.7 412.3 1527.1 417.8 1530.8 411.4 1534.4 403.3 1538.0 407.1 1541.6 408.7 1547.0 399.7 1550.6 405.3 1554.2 408.7 1557.8 401.6 1561.5 392.4 1566.9 401.5 1570.5 399.1 1574.1 396.1 1579.6 385.2 1583.2 391.3 1586.8 396.1 1589.8 395.2 1592.8 394.4 1595.8 392.4 1599.5 397.9 1603.1 388.8 1607.3 382.6 1611.5 378.5"/>
<path stroke="#0000ff" stroke-width="3.8" d="M320.2 1466.3L332.0 1400.0 345.5 1340.0 359.4 1258.0 371.5 1186.0 387.5 1100.0 390.6 1090.8 396.0 1063.8 400.3 1047.7 404.6 1036.9 405.7 1015.4 410.0 1011.1 414.3 1004.6 418.6 983.1 426.2 966.9 433.7 952.9 440.2 940.0 447.3 920.9 450.6 916.5 453.8 910.7 457.1 905.6 460.3 899.3 464.1 894.2 467.9 886.7 471.7 882.1 475.1 878.6 478.4 874.7 481.8 872.1 485.4 864.3 489.0 856.3 492.8 850.9 496.6 846.9 500.4 842.0 504.2 838.3 508.1 836.0 511.9 831.9 515.1 829.5 518.3 828.2 521.6 825.8 524.8 823.3 528.0 819.5 531.2 815.8 534.5 810.1 537.7 806.1 541.0 803.2 544.3 802.1 547.6 800.3 550.9 797.4 554.2 795.3 557.2 791.9 560.2 790.1 563.2 787.7 566.3 785.5 569.3 782.5 572.3 779.0 575.5 776.8 578.6 774.2 581.8 773.2 585.0 770.6 588.1 767.5 591.3 766.4 594.4 763.2 597.6 760.9 600.7 760.6 603.7 757.2 606.8 756.8 609.8 755.6 612.9 754.3 616.0 751.6 619.0 751.6 622.1 750.1 625.2 748.4 628.2 746.9 631.3 745.9 634.3 744.5 637.4 742.9 640.7 739.4 643.9 737.9 647.2 734.8 650.4 732.2 653.7 730.2 656.7 729.9 659.7 727.9 662.7 727.0 665.7 724.0 668.8 722.6 671.8 722.0 674.8 720.4 677.8 718.3 680.8 717.5 684.0 715.1 687.2 714.5 690.4 713.8 693.6 711.5 696.8 710.0 700.0 709.3 703.6 708.5 707.2 709.3 710.9 702.0 714.5 694.9 717.5 694.0 720.5 695.9 723.5 694.5 726.5 694.7 729.5 694.3 732.5 694.9 735.5 691.5 738.6 686.8 741.6 684.0 745.2 683.4 748.8 682.0 752.4 680.4 756.0 680.5 759.7 681.2 763.3 682.2 766.9 678.4 770.5 673.3 774.1 669.5 777.7 668.3 781.4 668.6 785.0 667.2 788.6 667.7 792.2 663.8 795.8 660.5 799.0 659.2 802.1 658.8 805.3 657.0 808.5 655.1 812.1 653.7 815.8 653.6 819.4 653.8 823.0 653.3 826.6 647.8 830.2 644.2 833.6 644.2 836.9 642.0 840.3 642.4 843.6 640.9 847.0 639.7 850.3 639.8 853.7 638.8 857.0 637.4 860.2 636.3 863.5 633.4 866.7 632.2 870.0 631.6 873.6 629.5 877.2 628.8 880.9 626.1 884.5 624.3 888.1 623.5 891.7 620.6 895.3 619.5 898.9 618.9 901.9 617.0 904.9 616.0 908.0 614.3 911.0 614.1 914.0 613.6 917.0 611.7 920.3 611.4 923.5 611.3 926.8 610.0 930.0 608.1 933.3 608.1 936.5 606.9 939.8 606.6 943.0 605.1 946.3 603.6 949.5 602.6 952.5 598.8 955.6 595.4 958.6 591.8 961.8 592.9 964.9 594.9 968.1 596.6 971.2 597.2 974.2 595.2 977.2 593.9 980.2 593.4 983.3 592.2 986.3 588.8 989.3 588.2 992.9 585.0 996.6 580.3 1000.2 577.3 1003.4 580.0 1006.5 581.8 1009.6 582.2 1012.8 584.6 1016.0 582.2 1019.1 578.2 1022.3 576.0 1025.5 573.7 1029.1 573.6 1032.7 575.7 1036.3 575.5 1039.9 569.1 1043.6 564.7 1047.2 567.2 1050.8 570.1 1056.2 557.4 1059.8 561.5 1063.5 566.5 1067.1 559.6 1070.7 553.8 1076.1 561.0 1079.3 558.1 1082.4 552.8 1085.6 549.8 1088.8 546.6 1094.2 555.6 1100.0 545.8 1103.2 548.1 1106.3 548.9 1109.5 550.0 1112.7 551.2 1118.1 540.4 1121.1 540.8 1124.1 538.1 1127.2 538.1 1130.2 537.3 1133.2 538.1 1136.2 536.8 1139.2 534.9 1142.2 534.0 1145.2 533.3 1148.2 530.4 1151.2 528.1 1154.2 527.7 1157.4 527.4 1160.5 525.5 1163.7 524.4 1166.9 524.3 1170.1 523.7 1173.2 522.5 1176.4 521.4 1179.6 520.5 1182.8 519.5 1186.0 518.3 1189.2 517.5 1192.4 515.2 1195.7 515.1 1198.9 512.3 1202.1 512.3 1205.3 511.5 1208.5 509.7 1211.6 508.8 1214.7 508.3 1217.8 508.4 1220.9 508.3 1224.0 508.8 1227.1 507.1 1230.2 507.8 1233.8 507.3 1237.5 506.2 1241.1 505.4 1244.7 506.0 1248.3 499.4 1251.9 493.4 1255.2 493.6 1258.5 492.0 1261.8 491.5 1265.2 491.4 1268.5 492.8 1271.8 491.6 1274.8 489.9 1277.8 487.5 1280.8 486.0 1283.9 485.2 1286.9 481.8 1289.9 480.7 1292.9 478.7 1295.9 479.1 1299.0 478.6 1302.0 478.0 1305.0 477.2 1308.0 475.3 1311.0 476.2 1314.0 478.7 1317.0 480.7 1320.6 476.8 1324.2 474.5 1327.9 472.2 1331.5 468.1 1334.5 467.5 1337.5 467.1 1340.5 465.2 1343.5 464.0 1346.5 462.9 1349.5 462.6 1353.1 460.5 1356.8 456.4 1360.4 453.6 1364.0 461.2 1367.6 469.9 1371.2 464.8 1374.9 460.3 1378.5 455.4 1382.1 462.6 1385.3 458.0 1388.4 454.4 1391.6 450.0 1394.8 444.6 1398.4 446.3 1402.0 450.3 1405.6 451.8 1409.2 448.0 1412.9 442.2 1416.5 437.3 1419.7 437.9 1423.0 439.6 1426.2 440.7 1429.5 443.7 1432.7 444.6 1436.3 439.4 1440.0 435.4 1443.6 430.1 1447.2 430.9 1450.8 433.6 1454.4 435.5 1457.7 433.8 1460.9 431.8 1464.2 429.4 1467.4 426.3 1470.7 424.7 1473.7 424.2 1476.7 424.5 1479.8 423.1 1482.8 421.4 1485.8 421.5 1488.8 421.0 1492.5 420.7 1496.3 419.6 1500.0 419.6 1505.4 417.8 1510.8 414.2 1514.4 412.7 1518.1 412.9 1521.7 412.3 1527.1 417.8 1530.8 411.4 1534.4 403.3 1538.0 407.1 1541.6 408.7 1547.0 399.7 1550.6 405.3 1554.2 408.7 1557.8 401.6 1561.5 392.4 1566.9 401.5 1570.5 399.1 1574.1 396.1 1579.6 385.2 1583.2 391.3 1586.8 396.1 1589.8 395.2 1592.8 394.4 1595.8 392.4 1599.5 397.9 1603.1 388.8 1607.3 382.6 1611.5 378.5"/>
<path stroke="#008080" stroke-width="7.4" stroke-opacity="0.45" d="M322.5 1446.0L330.0 1400.0 341.5 1340.0 353.0 1258.0 358.5 1186.0 370.5 1100.0 377.0 1060.0 381.5 1030.0 383.4 1013.0 384.0 1006.8 390.0 995.0 404.6 972.3 410.0 960.0 415.4 950.8 428.7 928.0 443.0 903.6 446.1 899.5 449.2 898.1 452.3 894.1 455.3 890.4 458.4 887.2 461.5 884.5 464.6 880.7 467.7 876.7 470.7 874.8 473.8 871.4 476.9 867.4 480.0 866.1 483.0 863.0 486.1 859.2 489.5 857.4 492.9 854.8 496.2 851.0 499.6 847.9 503.0 846.0 506.0 845.4 509.0 842.7 512.1 840.7 515.1 840.8 518.1 838.7 521.1 836.2 524.1 834.0 527.1 831.3 530.1 828.3 533.2 823.9 536.2 821.7 539.2 819.3 542.2 816.8 545.2 813.4 548.2 810.8 551.2 809.3 554.2 806.6 557.2 806.4 560.3 804.1 563.3 801.3 566.3 799.9 569.3 798.2 572.3 795.3 575.3 793.7 578.3 790.6 581.4 789.1 584.4 787.6 587.4 784.7 590.4 782.7 593.5 780.5 596.5 779.8 599.5 777.2 602.5 776.4 605.5 773.1 608.5 771.3 611.6 770.4 614.6 769.4 617.6 767.3 620.6 765.3 623.6 762.8 626.6 762.4 629.6 760.6 632.6 757.9 635.7 756.2 638.7 755.0 641.7 753.9 644.7 751.9 647.7 750.6 650.7 749.0 653.7 748.0 656.7 747.4 659.8 746.5 662.8 745.7 665.8 745.9 668.8 744.0 671.8 742.9 674.8 740.5 677.8 739.8 680.8 736.1 683.8 734.3 686.9 732.0 689.9 730.0 692.9 727.9 695.9 727.3 698.9 724.8 703.0 721.7 707.2 718.4 710.5 716.8 713.8 715.8 717.2 712.9 720.5 711.3 723.8 710.0 727.1 707.5 730.1 706.1 733.1 705.7 736.1 704.3 739.1 701.7 742.2 702.6 745.2 700.8 748.2 698.4 751.2 699.0 754.2 696.7 759.7 689.4 763.3 689.8 766.9 690.9 770.5 691.2 773.5 687.3 776.6 681.0 779.6 676.8 783.2 676.9 786.8 678.1 790.4 680.4 793.5 677.9 796.6 676.0 799.7 672.7 802.8 670.4 805.9 668.7 809.0 665.6 812.1 664.1 815.7 663.4 819.4 664.5 823.0 663.7 826.6 664.1 830.2 660.9 833.8 655.8 837.4 651.5 841.0 655.1 844.7 656.9 848.3 653.5 851.9 649.0 855.5 645.6 859.1 642.4 862.1 640.8 865.1 640.7 868.2 639.0 871.2 636.8 874.2 637.2 877.2 635.2 880.2 633.5 883.2 630.6 886.2 628.7 889.3 627.3 892.3 625.7 895.3 622.5 898.4 622.3 901.5 620.0 904.6 620.3 907.7 619.8 910.8 618.9 913.9 617.7 917.0 617.1 920.6 615.0 924.2 610.5 927.9 607.5 931.5 604.4 935.1 604.1 938.7 603.4 942.3 605.4 945.9 604.4 949.5 599.8 953.2 594.6 956.8 590.0 960.4 588.5 964.0 589.0 967.6 586.5 971.2 586.4 974.2 584.3 977.3 581.3 980.3 579.1 983.9 583.7 987.5 586.4 991.1 590.0 994.1 582.7 997.2 576.8 1000.2 570.1 1003.8 572.3 1007.4 573.7 1012.8 559.2 1018.3 568.3 1021.9 560.3 1025.5 553.8 1029.1 557.5 1032.7 561.0 1036.3 555.8 1040.0 552.4 1043.6 548.4 1047.2 549.5 1050.8 551.1 1054.4 553.8 1057.4 549.2 1060.5 545.2 1063.5 539.3 1066.7 539.3 1070.0 539.4 1073.2 537.9 1076.5 537.3 1079.7 537.5 1082.7 537.3 1085.8 535.3 1088.8 535.7 1092.5 533.3 1096.3 529.4 1100.0 525.9 1103.6 529.5 1107.2 531.4 1110.8 516.9 1114.0 518.0 1117.2 519.4 1120.3 520.3 1123.5 522.3 1126.5 516.9 1129.5 512.8 1132.5 507.8 1136.1 509.7 1139.8 510.5 1143.4 509.9 1147.0 511.5 1150.6 505.2 1154.2 498.8 1157.8 500.3 1161.5 502.6 1165.1 506.0 1168.7 497.1 1172.3 488.0 1177.8 497.0 1181.4 482.5 1186.8 498.8 1190.4 486.1 1195.8 498.8 1203.1 473.5 1208.5 488.0 1212.1 480.0 1215.7 474.5 1219.3 466.3 1222.9 475.3 1226.6 482.5 1229.9 476.6 1233.1 471.1 1236.4 466.5 1239.6 460.3 1242.9 455.4 1246.5 460.6 1250.1 466.0 1253.7 469.9 1257.0 466.0 1260.2 460.7 1263.5 456.2 1266.7 452.1 1270.0 448.2 1273.6 448.1 1277.2 448.3 1280.9 448.6 1284.5 450.0 1288.1 447.4 1291.7 445.1 1295.3 441.7 1298.9 439.1 1302.5 437.9 1306.2 437.6 1309.8 437.9 1313.4 437.3 1318.8 426.5 1321.8 429.3 1324.8 432.6 1327.8 435.5 1333.3 421.0 1336.9 426.7 1340.5 431.9 1344.1 424.7 1347.7 415.6 1351.3 420.1 1355.0 424.7 1358.0 422.1 1361.0 419.6 1364.0 417.4 1367.6 413.3 1371.3 409.7 1374.9 404.8 1377.9 407.3 1380.9 409.3 1383.9 412.0 1386.9 408.1 1389.9 406.3 1392.9 403.0 1396.5 400.1 1400.2 396.9 1403.8 393.6 1407.4 390.3 1411.0 406.6 1418.3 384.9 1423.7 404.8 1429.1 381.3 1434.5 404.8 1443.6 359.6 1452.6 404.8 1459.9 357.8 1468.9 403.0 1481.6 341.5 1484.3 343.6 1494.3 373.7 1498.7 377.7 1503.0 380.9 1508.7 363.6 1511.8 359.2 1514.9 354.1 1518.0 348.4 1521.1 345.2 1524.2 340.0 1527.3 335.0 1537.4 363.6 1540.6 357.3 1543.8 350.2 1547.1 344.3 1550.3 337.8 1553.9 346.2 1557.5 355.0 1561.3 348.7 1565.2 342.6 1569.0 336.4 1574.7 349.3 1580.4 336.4 1586.2 343.6 1590.5 343.9 1594.8 345.0 1600.5 335.0 1604.3 332.2 1608.2 330.2 1612.0 329.2 M1150.0 501.0L1151.3 503.9 1152.6 500.1 1153.9 503.7 1155.2 499.3 1156.5 503.6 1157.8 498.4 1159.1 503.4 1160.4 497.5 1161.7 503.2 1163.0 496.7 1164.3 503.0 1165.6 495.6 1166.9 501.9 1168.2 493.7 1169.5 500.3 1170.8 491.7 1172.1 498.7 1173.4 489.8 1174.7 497.2 1176.0 487.9 1177.3 495.6 1178.6 486.0 1179.9 494.1 1181.2 485.1 1182.5 494.5 1183.8 485.5 1185.1 495.0 1186.4 485.8 1187.7 495.4 1189.0 486.1 1190.3 495.9 1191.6 486.4 1192.9 496.4 1194.2 486.8 1195.5 496.9 M1400.0 397.0L1401.3 403.8 1402.6 396.2 1403.9 403.4 1405.2 395.4 1406.5 403.0 1407.8 394.7 1409.1 402.6 1410.4 393.9 1411.7 402.2 1413.0 393.1 1414.3 401.9 1415.6 392.3 1416.9 401.5 1418.2 391.5 1419.5 401.1 1420.8 390.6 1422.1 401.0 1423.4 389.3 1424.7 401.0 1426.0 388.0 1427.3 401.0 1428.6 386.7 1429.9 401.0 1431.2 385.4 1432.5 400.8 1433.8 383.9 1435.1 399.5 1436.4 382.3 1437.7 398.2 1439.0 380.6 M995.0 572.0L996.3 573.7 997.6 570.8 998.9 573.1 1000.2 569.5 1001.5 572.4 1002.8 568.3 1004.1 571.8 1005.4 567.0 1006.7 571.2 1008.0 565.8 1009.3 570.6 1010.6 564.5 1011.9 569.9 1013.2 563.3 1014.5 569.3 1015.8 562.0 1017.1 568.7 1018.4 560.8 1019.7 568.1 1021.0 559.5 1022.3 566.9 1023.6 558.2 1024.9 565.6 1026.2 556.9 1027.5 564.3 1028.8 555.6 1030.1 563.0 1031.4 554.3 1032.7 561.7 1034.0 553.0 1035.3 560.4 1036.6 551.7 1037.9 559.1 1039.2 550.4 1040.5 557.8 1041.8 549.5 1043.1 556.9 1044.4 548.8 1045.7 555.9 1047.0 548.1 1048.3 555.0 1049.6 547.4 1050.9 554.0 1052.2 546.7 1053.5 553.1 1054.8 546.0 1056.1 552.1 1057.4 545.3 1058.7 551.2 1060.0 544.5 1061.3 550.3 M1548.0 341.0L1549.3 342.9 1550.6 340.9 1551.9 342.9 1553.2 340.7 1554.5 342.8 1555.8 340.6 1557.1 342.7 1558.4 340.4 1559.7 342.6 1561.0 340.2 1562.3 342.5 1563.6 340.1 1564.9 342.4 1566.2 340.0 1567.5 342.2 1568.8 339.8 1570.1 342.2 1571.4 339.7 1572.7 342.1 1574.0 339.5 1575.3 342.0 1576.6 339.4 1577.9 341.9 1579.2 339.2 1580.5 341.8 1581.8 339.1 1583.1 341.7 1584.4 338.9 1585.7 341.6 1587.0 338.8 1588.3 341.5 1589.6 338.6 1590.9 341.4 1592.2 338.5 1593.5 341.3 1594.8 338.3 1596.1 341.2 1597.4 338.2 1598.7 341.1 1600.0 338.0 1601.3 340.1 1602.6 337.0 1603.9 338.3 1605.2 335.9 1606.5 336.5 1607.8 334.9 1609.1 334.6"/>
<path stroke="#008080" stroke-width="3.8" d="M322.5 1446.0L330.0 1400.0 341.5 1340.0 353.0 1258.0 358.5 1186.0 370.5 1100.0 377.0 1060.0 381.5 1030.0 383.4 1013.0 384.0 1006.8 390.0 995.0 404.6 972.3 410.0 960.0 415.4 950.8 428.7 928.0 443.0 903.6 446.1 899.5 449.2 898.1 452.3 894.1 455.3 890.4 458.4 887.2 461.5 884.5 464.6 880.7 467.7 876.7 470.7 874.8 473.8 871.4 476.9 867.4 480.0 866.1 483.0 863.0 486.1 859.2 489.5 857.4 492.9 854.8 496.2 851.0 499.6 847.9 503.0 846.0 506.0 845.4 509.0 842.7 512.1 840.7 515.1 840.8 518.1 838.7 521.1 836.2 524.1 834.0 527.1 831.3 530.1 828.3 533.2 823.9 536.2 821.7 539.2 819.3 542.2 816.8 545.2 813.4 548.2 810.8 551.2 809.3 554.2 806.6 557.2 806.4 560.3 804.1 563.3 801.3 566.3 799.9 569.3 798.2 572.3 795.3 575.3 793.7 578.3 790.6 581.4 789.1 584.4 787.6 587.4 784.7 590.4 782.7 593.5 780.5 596.5 779.8 599.5 777.2 602.5 776.4 605.5 773.1 608.5 771.3 611.6 770.4 614.6 769.4 617.6 767.3 620.6 765.3 623.6 762.8 626.6 762.4 629.6 760.6 632.6 757.9 635.7 756.2 638.7 755.0 641.7 753.9 644.7 751.9 647.7 750.6 650.7 749.0 653.7 748.0 656.7 747.4 659.8 746.5 662.8 745.7 665.8 745.9 668.8 744.0 671.8 742.9 674.8 740.5 677.8 739.8 680.8 736.1 683.8 734.3 686.9 732.0 689.9 730.0 692.9 727.9 695.9 727.3 698.9 724.8 703.0 721.7 707.2 718.4 710.5 716.8 713.8 715.8 717.2 712.9 720.5 711.3 723.8 710.0 727.1 707.5 730.1 706.1 733.1 705.7 736.1 704.3 739.1 701.7 742.2 702.6 745.2 700.8 748.2 698.4 751.2 699.0 754.2 696.7 759.7 689.4 763.3 689.8 766.9 690.9 770.5 691.2 773.5 687.3 776.6 681.0 779.6 676.8 783.2 676.9 786.8 678.1 790.4 680.4 793.5 677.9 796.6 676.0 799.7 672.7 802.8 670.4 805.9 668.7 809.0 665.6 812.1 664.1 815.7 663.4 819.4 664.5 823.0 663.7 826.6 664.1 830.2 660.9 833.8 655.8 837.4 651.5 841.0 655.1 844.7 656.9 848.3 653.5 851.9 649.0 855.5 645.6 859.1 642.4 862.1 640.8 865.1 640.7 868.2 639.0 871.2 636.8 874.2 637.2 877.2 635.2 880.2 633.5 883.2 630.6 886.2 628.7 889.3 627.3 892.3 625.7 895.3 622.5 898.4 622.3 901.5 620.0 904.6 620.3 907.7 619.8 910.8 618.9 913.9 617.7 917.0 617.1 920.6 615.0 924.2 610.5 927.9 607.5 931.5 604.4 935.1 604.1 938.7 603.4 942.3 605.4 945.9 604.4 949.5 599.8 953.2 594.6 956.8 590.0 960.4 588.5 964.0 589.0 967.6 586.5 971.2 586.4 974.2 584.3 977.3 581.3 980.3 579.1 983.9 583.7 987.5 586.4 991.1 590.0 994.1 582.7 997.2 576.8 1000.2 570.1 1003.8 572.3 1007.4 573.7 1012.8 559.2 1018.3 568.3 1021.9 560.3 1025.5 553.8 1029.1 557.5 1032.7 561.0 1036.3 555.8 1040.0 552.4 1043.6 548.4 1047.2 549.5 1050.8 551.1 1054.4 553.8 1057.4 549.2 1060.5 545.2 1063.5 539.3 1066.7 539.3 1070.0 539.4 1073.2 537.9 1076.5 537.3 1079.7 537.5 1082.7 537.3 1085.8 535.3 1088.8 535.7 1092.5 533.3 1096.3 529.4 1100.0 525.9 1103.6 529.5 1107.2 531.4 1110.8 516.9 1114.0 518.0 1117.2 519.4 1120.3 520.3 1123.5 522.3 1126.5 516.9 1129.5 512.8 1132.5 507.8 1136.1 509.7 1139.8 510.5 1143.4 509.9 1147.0 511.5 1150.6 505.2 1154.2 498.8 1157.8 500.3 1161.5 502.6 1165.1 506.0 1168.7 497.1 1172.3 488.0 1177.8 497.0 1181.4 482.5 1186.8 498.8 1190.4 486.1 1195.8 498.8 1203.1 473.5 1208.5 488.0 1212.1 480.0 1215.7 474.5 1219.3 466.3 1222.9 475.3 1226.6 482.5 1229.9 476.6 1233.1 471.1 1236.4 466.5 1239.6 460.3 1242.9 455.4 1246.5 460.6 1250.1 466.0 1253.7 469.9 1257.0 466.0 1260.2 460.7 1263.5 456.2 1266.7 452.1 1270.0 448.2 1273.6 448.1 1277.2 448.3 1280.9 448.6 1284.5 450.0 1288.1 447.4 1291.7 445.1 1295.3 441.7 1298.9 439.1 1302.5 437.9 1306.2 437.6 1309.8 437.9 1313.4 437.3 1318.8 426.5 1321.8 429.3 1324.8 432.6 1327.8 435.5 1333.3 421.0 1336.9 426.7 1340.5 431.9 1344.1 424.7 1347.7 415.6 1351.3 420.1 1355.0 424.7 1358.0 422.1 1361.0 419.6 1364.0 417.4 1367.6 413.3 1371.3 409.7 1374.9 404.8 1377.9 407.3 1380.9 409.3 1383.9 412.0 1386.9 408.1 1389.9 406.3 1392.9 403.0 1396.5 400.1 1400.2 396.9 1403.8 393.6 1407.4 390.3 1411.0 406.6 1418.3 384.9 1423.7 404.8 1429.1 381.3 1434.5 404.8 1443.6 359.6 1452.6 404.8 1459.9 357.8 1468.9 403.0 1481.6 341.5 1484.3 343.6 1494.3 373.7 1498.7 377.7 1503.0 380.9 1508.7 363.6 1511.8 359.2 1514.9 354.1 1518.0 348.4 1521.1 345.2 1524.2 340.0 1527.3 335.0 1537.4 363.6 1540.6 357.3 1543.8 350.2 1547.1 344.3 1550.3 337.8 1553.9 346.2 1557.5 355.0 1561.3 348.7 1565.2 342.6 1569.0 336.4 1574.7 349.3 1580.4 336.4 1586.2 343.6 1590.5 343.9 1594.8 345.0 1600.5 335.0 1604.3 332.2 1608.2 330.2 1612.0 329.2 M1150.0 501.0L1151.3 503.9 1152.6 500.1 1153.9 503.7 1155.2 499.3 1156.5 503.6 1157.8 498.4 1159.1 503.4 1160.4 497.5 1161.7 503.2 1163.0 496.7 1164.3 503.0 1165.6 495.6 1166.9 501.9 1168.2 493.7 1169.5 500.3 1170.8 491.7 1172.1 498.7 1173.4 489.8 1174.7 497.2 1176.0 487.9 1177.3 495.6 1178.6 486.0 1179.9 494.1 1181.2 485.1 1182.5 494.5 1183.8 485.5 1185.1 495.0 1186.4 485.8 1187.7 495.4 1189.0 486.1 1190.3 495.9 1191.6 486.4 1192.9 496.4 1194.2 486.8 1195.5 496.9 M1400.0 397.0L1401.3 403.8 1402.6 396.2 1403.9 403.4 1405.2 395.4 1406.5 403.0 1407.8 394.7 1409.1 402.6 1410.4 393.9 1411.7 402.2 1413.0 393.1 1414.3 401.9 1415.6 392.3 1416.9 401.5 1418.2 391.5 1419.5 401.1 1420.8 390.6 1422.1 401.0 1423.4 389.3 1424.7 401.0 1426.0 388.0 1427.3 401.0 1428.6 386.7 1429.9 401.0 1431.2 385.4 1432.5 400.8 1433.8 383.9 1435.1 399.5 1436.4 382.3 1437.7 398.2 1439.0 380.6 M995.0 572.0L996.3 573.7 997.6 570.8 998.9 573.1 1000.2 569.5 1001.5 572.4 1002.8 568.3 1004.1 571.8 1005.4 567.0 1006.7 571.2 1008.0 565.8 1009.3 570.6 1010.6 564.5 1011.9 569.9 1013.2 563.3 1014.5 569.3 1015.8 562.0 1017.1 568.7 1018.4 560.8 1019.7 568.1 1021.0 559.5 1022.3 566.9 1023.6 558.2 1024.9 565.6 1026.2 556.9 1027.5 564.3 1028.8 555.6 1030.1 563.0 1031.4 554.3 1032.7 561.7 1034.0 553.0 1035.3 560.4 1036.6 551.7 1037.9 559.1 1039.2 550.4 1040.5 557.8 1041.8 549.5 1043.1 556.9 1044.4 548.8 1045.7 555.9 1047.0 548.1 1048.3 555.0 1049.6 547.4 1050.9 554.0 1052.2 546.7 1053.5 553.1 1054.8 546.0 1056.1 552.1 1057.4 545.3 1058.7 551.2 1060.0 544.5 1061.3 550.3 M1548.0 341.0L1549.3 342.9 1550.6 340.9 1551.9 342.9 1553.2 340.7 1554.5 342.8 1555.8 340.6 1557.1 342.7 1558.4 340.4 1559.7 342.6 1561.0 340.2 1562.3 342.5 1563.6 340.1 1564.9 342.4 1566.2 340.0 1567.5 342.2 1568.8 339.8 1570.1 342.2 1571.4 339.7 1572.7 342.1 1574.0 339.5 1575.3 342.0 1576.6 339.4 1577.9 341.9 1579.2 339.2 1580.5 341.8 1581.8 339.1 1583.1 341.7 1584.4 338.9 1585.7 341.6 1587.0 338.8 1588.3 341.5 1589.6 338.6 1590.9 341.4 1592.2 338.5 1593.5 341.3 1594.8 338.3 1596.1 341.2 1597.4 338.2 1598.7 341.1 1600.0 338.0 1601.3 340.1 1602.6 337.0 1603.9 338.3 1605.2 335.9 1606.5 336.5 1607.8 334.9 1609.1 334.6"/>
<path stroke="#ff00ff" stroke-width="7.4" stroke-opacity="0.45" d="M319.5 1447.0L325.0 1400.0 336.5 1340.0 348.7 1258.0 358.0 1186.0 369.6 1100.0 375.5 1080.0 380.9 1047.7 385.2 1020.8 390.6 999.2 396.0 977.7 402.5 961.5 408.9 945.4 414.3 920.9 425.8 892.2 435.9 863.5 445.9 842.0 449.7 835.3 453.6 830.1 457.4 823.3 461.0 819.4 464.5 813.7 468.1 809.0 471.7 803.2 475.3 800.0 478.9 795.0 482.5 790.4 486.1 787.4 489.5 782.4 493.0 778.9 496.4 775.4 499.9 771.1 503.3 767.3 506.9 763.8 510.5 759.9 514.0 754.5 517.6 751.6 521.0 747.9 524.3 744.8 527.7 743.4 531.0 739.0 534.4 737.7 537.7 734.3 541.1 732.3 544.4 729.4 547.8 726.5 551.1 724.4 554.4 722.7 557.8 720.0 561.4 718.5 565.0 716.2 568.7 712.8 572.3 710.3 575.5 706.3 578.6 704.2 581.8 700.4 585.0 697.6 588.0 698.0 591.0 701.0 594.0 701.3 597.6 697.1 601.3 694.0 604.9 690.4 607.9 686.0 610.9 683.7 614.0 680.0 617.0 674.9 620.0 672.3 623.0 668.7 626.6 670.4 630.2 672.9 633.8 676.0 637.4 668.6 641.1 662.5 644.7 654.2 647.7 652.8 650.7 653.8 653.7 651.8 656.7 651.8 659.7 650.4 662.7 650.6 665.7 648.1 668.7 645.0 671.8 644.4 674.8 639.9 677.8 637.6 680.8 636.2 683.8 633.9 686.8 632.7 689.8 632.4 692.9 629.5 695.9 628.8 698.9 627.1 702.3 624.9 705.6 623.6 709.0 620.7 712.0 618.4 715.0 616.6 718.0 614.6 721.1 612.8 724.1 610.9 727.1 609.9 730.1 609.3 733.1 606.5 736.2 604.3 739.2 603.4 742.2 601.8 745.2 600.8 748.2 601.7 751.2 600.3 754.2 600.8 757.2 599.9 760.2 597.8 763.2 598.3 766.3 596.0 769.3 593.7 772.3 593.6 777.8 582.7 780.8 582.4 783.8 580.1 786.8 579.1 790.4 581.4 794.0 584.6 797.1 582.5 800.2 582.0 803.3 580.1 806.4 579.0 809.5 576.7 812.6 575.0 815.7 573.7 818.7 569.7 821.8 566.8 824.8 564.7 827.9 564.0 831.1 562.8 834.2 559.9 837.4 559.2 841.0 561.7 844.7 562.9 848.3 556.1 851.9 551.3 855.5 544.8 858.5 548.6 861.6 553.4 864.6 559.2 868.2 551.9 871.8 543.0 875.4 545.2 879.0 546.6 882.6 542.0 886.3 535.7 889.3 536.6 892.3 538.2 895.3 539.3 900.7 528.5 904.4 531.1 908.0 535.7 911.0 535.6 914.0 533.5 917.0 532.1 920.6 527.5 924.2 522.0 927.8 515.8 933.3 521.3 936.5 519.6 939.8 519.6 943.0 518.8 946.3 517.9 949.5 515.8 952.5 511.1 955.6 508.6 958.6 505.0 961.6 508.2 964.6 510.9 967.6 514.0 970.6 509.7 973.7 506.8 976.7 503.2 979.9 502.1 983.2 499.5 986.4 498.3 989.7 495.6 992.9 494.1 996.5 496.1 1000.2 497.4 1003.8 499.6 1007.0 494.7 1010.1 490.9 1013.3 487.0 1016.5 483.3 1019.6 483.2 1022.8 485.1 1025.9 486.7 1029.1 486.9 1032.7 484.9 1036.3 483.3 1039.9 476.2 1043.6 467.0 1046.6 470.7 1049.6 474.3 1052.6 477.9 1055.6 479.1 1058.7 480.1 1061.7 481.5 1068.9 463.4 1072.5 469.0 1076.1 472.4 1081.6 450.7 1085.2 458.7 1088.8 467.0 1092.5 462.8 1096.3 458.4 1100.0 455.4 1103.1 453.0 1106.2 451.0 1109.3 448.6 1112.4 447.1 1115.5 445.6 1118.6 442.0 1121.7 440.9 1124.9 443.8 1128.1 444.6 1131.2 447.0 1134.4 450.0 1138.0 443.7 1141.6 437.5 1145.2 431.9 1148.4 429.2 1151.6 428.6 1154.7 426.5 1157.9 424.7 1161.5 432.8 1165.1 439.1 1168.1 438.0 1171.1 435.3 1174.2 434.7 1177.2 433.8 1180.2 430.5 1183.2 430.1 1188.6 421.0 1192.2 424.8 1195.9 426.9 1199.5 430.1 1203.1 423.4 1206.7 415.6 1210.0 415.6 1213.2 412.9 1216.5 413.2 1219.7 412.3 1223.0 410.2 1226.2 409.0 1229.3 406.1 1232.4 403.7 1235.6 401.2 1238.6 402.9 1241.7 404.0 1244.7 406.6 1247.7 404.4 1250.7 404.9 1253.7 403.0 1257.3 408.4 1262.7 393.9 1266.3 389.5 1270.0 386.0 1273.6 383.1 1280.8 403.0 1283.8 399.4 1286.9 395.6 1289.9 392.1 1293.1 390.5 1296.2 391.2 1299.3 388.6 1302.5 388.5 1308.0 375.8 1311.6 376.9 1315.2 378.7 1318.8 380.2 1322.4 381.3 1326.0 395.7 1329.7 377.6 1332.7 376.2 1335.7 373.6 1338.7 372.2 1342.3 357.8 1345.9 363.7 1349.5 370.4 1353.2 357.8 1358.6 374.0 1362.2 354.1 1369.4 388.5 1374.9 337.9 1382.1 384.9 1391.1 334.2 1398.4 375.8 1414.6 330.6 1418.2 333.2 1421.9 334.2 1425.5 327.0 1429.1 320.3 1432.7 314.4 1438.2 319.8 1447.2 346.9 1450.8 346.3 1454.4 346.9 1459.9 321.6 1467.1 348.7 1470.1 343.8 1473.1 338.7 1476.1 332.4 1479.7 329.0 1483.4 327.0 1487.0 323.4 1490.4 323.0 1493.8 322.8 1497.2 322.0 1503.0 327.8 1507.3 314.9 1513.0 327.8 1516.6 325.1 1520.2 320.6 1523.5 316.6 1526.9 310.9 1530.2 307.7 1536.0 323.5 1540.3 306.3 1544.6 307.2 1548.9 306.3 1554.6 310.6 1560.3 290.5 1564.6 313.4 1570.4 274.7 1574.7 322.0 1580.4 281.9 1584.7 330.6 1590.5 270.4 1594.8 333.5 1599.1 279.0 1602.0 332.1 1603.4 276.1 M1558.0 296.0L1559.3 307.0 1560.6 296.3 1561.9 307.0 1563.2 296.6 1564.5 307.0 1565.8 296.9 1567.1 307.0 1568.4 297.2 1569.7 307.0 1571.0 297.5 1572.3 307.0 1573.6 297.8 1574.9 307.0 1576.2 297.4 1577.5 307.0 1578.8 296.2 1580.1 307.0 1581.4 295.0 1582.7 307.0 1584.0 293.8 1585.3 307.0 1586.6 292.6 1587.9 307.0 1589.2 291.4 1590.5 307.2 1591.8 290.2 1593.1 308.4 1594.4 289.0 1595.7 309.6 1597.0 287.8 1598.3 310.8 1599.6 286.6 1600.9 312.0"/>
<path stroke="#ff00ff" stroke-width="3.8" d="M319.5 1447.0L325.0 1400.0 336.5 1340.0 348.7 1258.0 358.0 1186.0 369.6 1100.0 375.5 1080.0 380.9 1047.7 385.2 1020.8 390.6 999.2 396.0 977.7 402.5 961.5 408.9 945.4 414.3 920.9 425.8 892.2 435.9 863.5 445.9 842.0 449.7 835.3 453.6 830.1 457.4 823.3 461.0 819.4 464.5 813.7 468.1 809.0 471.7 803.2 475.3 800.0 478.9 795.0 482.5 790.4 486.1 787.4 489.5 782.4 493.0 778.9 496.4 775.4 499.9 771.1 503.3 767.3 506.9 763.8 510.5 759.9 514.0 754.5 517.6 751.6 521.0 747.9 524.3 744.8 527.7 743.4 531.0 739.0 534.4 737.7 537.7 734.3 541.1 732.3 544.4 729.4 547.8 726.5 551.1 724.4 554.4 722.7 557.8 720.0 561.4 718.5 565.0 716.2 568.7 712.8 572.3 710.3 575.5 706.3 578.6 704.2 581.8 700.4 585.0 697.6 588.0 698.0 591.0 701.0 594.0 701.3 597.6 697.1 601.3 694.0 604.9 690.4 607.9 686.0 610.9 683.7 614.0 680.0 617.0 674.9 620.0 672.3 623.0 668.7 626.6 670.4 630.2 672.9 633.8 676.0 637.4 668.6 641.1 662.5 644.7 654.2 647.7 652.8 650.7 653.8 653.7 651.8 656.7 651.8 659.7 650.4 662.7 650.6 665.7 648.1 668.7 645.0 671.8 644.4 674.8 639.9 677.8 637.6 680.8 636.2 683.8 633.9 686.8 632.7 689.8 632.4 692.9 629.5 695.9 628.8 698.9 627.1 702.3 624.9 705.6 623.6 709.0 620.7 712.0 618.4 715.0 616.6 718.0 614.6 721.1 612.8 724.1 610.9 727.1 609.9 730.1 609.3 733.1 606.5 736.2 604.3 739.2 603.4 742.2 601.8 745.2 600.8 748.2 601.7 751.2 600.3 754.2 600.8 757.2 599.9 760.2 597.8 763.2 598.3 766.3 596.0 769.3 593.7 772.3 593.6 777.8 582.7 780.8 582.4 783.8 580.1 786.8 579.1 790.4 581.4 794.0 584.6 797.1 582.5 800.2 582.0 803.3 580.1 806.4 579.0 809.5 576.7 812.6 575.0 815.7 573.7 818.7 569.7 821.8 566.8 824.8 564.7 827.9 564.0 831.1 562.8 834.2 559.9 837.4 559.2 841.0 561.7 844.7 562.9 848.3 556.1 851.9 551.3 855.5 544.8 858.5 548.6 861.6 553.4 864.6 559.2 868.2 551.9 871.8 543.0 875.4 545.2 879.0 546.6 882.6 542.0 886.3 535.7 889.3 536.6 892.3 538.2 895.3 539.3 900.7 528.5 904.4 531.1 908.0 535.7 911.0 535.6 914.0 533.5 917.0 532.1 920.6 527.5 924.2 522.0 927.8 515.8 933.3 521.3 936.5 519.6 939.8 519.6 943.0 518.8 946.3 517.9 949.5 515.8 952.5 511.1 955.6 508.6 958.6 505.0 961.6 508.2 964.6 510.9 967.6 514.0 970.6 509.7 973.7 506.8 976.7 503.2 979.9 502.1 983.2 499.5 986.4 498.3 989.7 495.6 992.9 494.1 996.5 496.1 1000.2 497.4 1003.8 499.6 1007.0 494.7 1010.1 490.9 1013.3 487.0 1016.5 483.3 1019.6 483.2 1022.8 485.1 1025.9 486.7 1029.1 486.9 1032.7 484.9 1036.3 483.3 1039.9 476.2 1043.6 467.0 1046.6 470.7 1049.6 474.3 1052.6 477.9 1055.6 479.1 1058.7 480.1 1061.7 481.5 1068.9 463.4 1072.5 469.0 1076.1 472.4 1081.6 450.7 1085.2 458.7 1088.8 467.0 1092.5 462.8 1096.3 458.4 1100.0 455.4 1103.1 453.0 1106.2 451.0 1109.3 448.6 1112.4 447.1 1115.5 445.6 1118.6 442.0 1121.7 440.9 1124.9 443.8 1128.1 444.6 1131.2 447.0 1134.4 450.0 1138.0 443.7 1141.6 437.5 1145.2 431.9 1148.4 429.2 1151.6 428.6 1154.7 426.5 1157.9 424.7 1161.5 432.8 1165.1 439.1 1168.1 438.0 1171.1 435.3 1174.2 434.7 1177.2 433.8 1180.2 430.5 1183.2 430.1 1188.6 421.0 1192.2 424.8 1195.9 426.9 1199.5 430.1 1203.1 423.4 1206.7 415.6 1210.0 415.6 1213.2 412.9 1216.5 413.2 1219.7 412.3 1223.0 410.2 1226.2 409.0 1229.3 406.1 1232.4 403.7 1235.6 401.2 1238.6 402.9 1241.7 404.0 1244.7 406.6 1247.7 404.4 1250.7 404.9 1253.7 403.0 1257.3 408.4 1262.7 393.9 1266.3 389.5 1270.0 386.0 1273.6 383.1 1280.8 403.0 1283.8 399.4 1286.9 395.6 1289.9 392.1 1293.1 390.5 1296.2 391.2 1299.3 388.6 1302.5 388.5 1308.0 375.8 1311.6 376.9 1315.2 378.7 1318.8 380.2 1322.4 381.3 1326.0 395.7 1329.7 377.6 1332.7 376.2 1335.7 373.6 1338.7 372.2 1342.3 357.8 1345.9 363.7 1349.5 370.4 1353.2 357.8 1358.6 374.0 1362.2 354.1 1369.4 388.5 1374.9 337.9 1382.1 384.9 1391.1 334.2 1398.4 375.8 1414.6 330.6 1418.2 333.2 1421.9 334.2 1425.5 327.0 1429.1 320.3 1432.7 314.4 1438.2 319.8 1447.2 346.9 1450.8 346.3 1454.4 346.9 1459.9 321.6 1467.1 348.7 1470.1 343.8 1473.1 338.7 1476.1 332.4 1479.7 329.0 1483.4 327.0 1487.0 323.4 1490.4 323.0 1493.8 322.8 1497.2 322.0 1503.0 327.8 1507.3 314.9 1513.0 327.8 1516.6 325.1 1520.2 320.6 1523.5 316.6 1526.9 310.9 1530.2 307.7 1536.0 323.5 1540.3 306.3 1544.6 307.2 1548.9 306.3 1554.6 310.6 1560.3 290.5 1564.6 313.4 1570.4 274.7 1574.7 322.0 1580.4 281.9 1584.7 330.6 1590.5 270.4 1594.8 333.5 1599.1 279.0 1602.0 332.1 1603.4 276.1 M1558.0 296.0L1559.3 307.0 1560.6 296.3 1561.9 307.0 1563.2 296.6 1564.5 307.0 1565.8 296.9 1567.1 307.0 1568.4 297.2 1569.7 307.0 1571.0 297.5 1572.3 307.0 1573.6 297.8 1574.9 307.0 1576.2 297.4 1577.5 307.0 1578.8 296.2 1580.1 307.0 1581.4 295.0 1582.7 307.0 1584.0 293.8 1585.3 307.0 1586.6 292.6 1587.9 307.0 1589.2 291.4 1590.5 307.2 1591.8 290.2 1593.1 308.4 1594.4 289.0 1595.7 309.6 1597.0 287.8 1598.3 310.8 1599.6 286.6 1600.9 312.0"/>
</g>
<g stroke="#000" fill="none">
<rect x="317.5" y="43.0" width="1995.7" height="1474.0" stroke-width="5.5"/>
<line x1="317.5" y1="1517.0" x2="317.5" y2="1550.0" stroke-width="4.8"/>
<line x1="471.0" y1="1517.0" x2="471.0" y2="1534.0" stroke-width="4.8"/>
<line x1="624.5" y1="1517.0" x2="624.5" y2="1550.0" stroke-width="4.8"/>
<line x1="778.0" y1="1517.0" x2="778.0" y2="1534.0" stroke-width="4.8"/>
<line x1="931.6" y1="1517.0" x2="931.6" y2="1550.0" stroke-width="4.8"/>
<line x1="1085.1" y1="1517.0" x2="1085.1" y2="1534.0" stroke-width="4.8"/>
<line x1="1238.6" y1="1517.0" x2="1238.6" y2="1550.0" stroke-width="4.8"/>
<line x1="1392.1" y1="1517.0" x2="1392.1" y2="1534.0" stroke-width="4.8"/>
<line x1="1545.6" y1="1517.0" x2="1545.6" y2="1550.0" stroke-width="4.8"/>
<line x1="1699.1" y1="1517.0" x2="1699.1" y2="1534.0" stroke-width="4.8"/>
<line x1="1852.7" y1="1517.0" x2="1852.7" y2="1550.0" stroke-width="4.8"/>
<line x1="2006.2" y1="1517.0" x2="2006.2" y2="1534.0" stroke-width="4.8"/>
<line x1="2159.7" y1="1517.0" x2="2159.7" y2="1550.0" stroke-width="4.8"/>
<line x1="2313.2" y1="1517.0" x2="2313.2" y2="1534.0" stroke-width="4.8"/>
<line x1="284.5" y1="1517.0" x2="317.5" y2="1517.0" stroke-width="4.8"/>
<line x1="300.5" y1="1411.7" x2="317.5" y2="1411.7" stroke-width="4.8"/>
<line x1="284.5" y1="1306.4" x2="317.5" y2="1306.4" stroke-width="4.8"/>
<line x1="300.5" y1="1201.1" x2="317.5" y2="1201.1" stroke-width="4.8"/>
<line x1="284.5" y1="1095.9" x2="317.5" y2="1095.9" stroke-width="4.8"/>
<line x1="300.5" y1="990.6" x2="317.5" y2="990.6" stroke-width="4.8"/>
<line x1="284.5" y1="885.3" x2="317.5" y2="885.3" stroke-width="4.8"/>
<line x1="300.5" y1="780.0" x2="317.5" y2="780.0" stroke-width="4.8"/>
<line x1="284.5" y1="674.7" x2="317.5" y2="674.7" stroke-width="4.8"/>
<line x1="300.5" y1="569.4" x2="317.5" y2="569.4" stroke-width="4.8"/>
<line x1="284.5" y1="464.1" x2="317.5" y2="464.1" stroke-width="4.8"/>
<line x1="300.5" y1="358.9" x2="317.5" y2="358.9" stroke-width="4.8"/>
<line x1="284.5" y1="253.6" x2="317.5" y2="253.6" stroke-width="4.8"/>
<line x1="300.5" y1="148.3" x2="317.5" y2="148.3" stroke-width="4.8"/>
<line x1="284.5" y1="43.0" x2="317.5" y2="43.0" stroke-width="4.8"/>
</g>
<g font-size="62" stroke="#fff" stroke-width="0.8">
<text transform="translate(317.5 1610.5) scale(0.975 1)" text-anchor="middle">0</text>
<text transform="translate(624.5 1610.5) scale(0.975 1)" text-anchor="middle">50</text>
<text transform="translate(931.6 1610.5) scale(0.975 1)" text-anchor="middle">100</text>
<text transform="translate(1238.6 1610.5) scale(0.975 1)" text-anchor="middle">150</text>
<text transform="translate(1545.6 1610.5) scale(0.975 1)" text-anchor="middle">200</text>
<text transform="translate(1852.7 1610.5) scale(0.975 1)" text-anchor="middle">250</text>
<text transform="translate(2159.7 1610.5) scale(0.975 1)" text-anchor="middle">300</text>
<text transform="translate(269.0 1531.5) scale(0.975 1)" text-anchor="end">0</text>
<text transform="translate(269.0 1320.9) scale(0.975 1)" text-anchor="end">50</text>
<text transform="translate(269.0 1110.4) scale(0.975 1)" text-anchor="end">100</text>
<text transform="translate(269.0 899.8) scale(0.975 1)" text-anchor="end">150</text>
<text transform="translate(269.0 689.2) scale(0.975 1)" text-anchor="end">200</text>
<text transform="translate(269.0 478.6) scale(0.975 1)" text-anchor="end">250</text>
<text transform="translate(269.0 268.1) scale(0.975 1)" text-anchor="end">300</text>
<text transform="translate(269.0 57.5) scale(0.975 1)" text-anchor="end">350</text>
</g>
<text x="1315.5" y="1726.0" font-size="72" text-anchor="middle">Time (sec)</text>
<text transform="translate(69 790) rotate(-90)" font-size="74" text-anchor="middle">Potential (V)</text>
<line x1="1550.5" y1="738.5" x2="1718.5" y2="738.5" stroke="#000000" stroke-width="7.4" stroke-opacity="0.45"/>
<line x1="1550.5" y1="738.5" x2="1718.5" y2="738.5" stroke="#000000" stroke-width="3.8"/>
<text transform="translate(1735.5 763.3) scale(0.966 1)" font-size="73.6">cp-Ti(MAO)</text>
<line x1="1550.5" y1="829.9" x2="1718.5" y2="829.9" stroke="#ff0000" stroke-width="7.4" stroke-opacity="0.45"/>
<line x1="1550.5" y1="829.9" x2="1718.5" y2="829.9" stroke="#ff0000" stroke-width="3.8"/>
<text transform="translate(1735.5 854.7) scale(0.966 1)" font-size="73.6">Ti-5Fe(MAO)</text>
<line x1="1550.5" y1="920.5" x2="1718.5" y2="920.5" stroke="#0000ff" stroke-width="7.4" stroke-opacity="0.45"/>
<line x1="1550.5" y1="920.5" x2="1718.5" y2="920.5" stroke="#0000ff" stroke-width="3.8"/>
<text transform="translate(1735.5 945.3) scale(0.966 1)" font-size="73.6">Ti-5Mo(MAO)</text>
<line x1="1550.5" y1="1011.1" x2="1718.5" y2="1011.1" stroke="#008080" stroke-width="7.4" stroke-opacity="0.45"/>
<line x1="1550.5" y1="1011.1" x2="1718.5" y2="1011.1" stroke="#008080" stroke-width="3.8"/>
<text transform="translate(1735.5 1035.9) scale(0.966 1)" font-size="73.6">Ti-5V(MAO)</text>
<line x1="1550.5" y1="1101.7" x2="1718.5" y2="1101.7" stroke="#ff00ff" stroke-width="7.4" stroke-opacity="0.45"/>
<line x1="1550.5" y1="1101.7" x2="1718.5" y2="1101.7" stroke="#ff00ff" stroke-width="3.8"/>
<text transform="translate(1735.5 1126.5) scale(0.966 1)" font-size="73.6">Ti-5Zr(MAO)</text>
</svg></body></html>
